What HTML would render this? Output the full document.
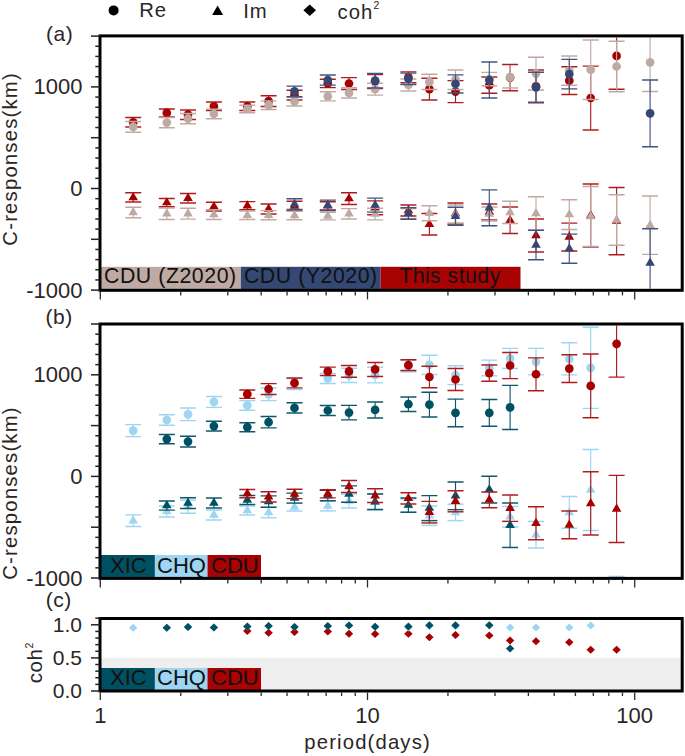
<!DOCTYPE html>
<html><head><meta charset="utf-8"><style>
html,body{margin:0;padding:0;background:#fff;}
svg{display:block;}
</style></head><body>
<svg width="685" height="756" viewBox="0 0 685 756" font-family="Liberation Sans, sans-serif" style="font-family:'Liberation Sans',sans-serif">
<rect x="100.0" y="657.90" width="582.2" height="33.10" fill="#eeeeee"/>
<rect x="100.0" y="266.8" width="140.8" height="23.5" fill="#bfaaa3"/>
<rect x="240.8" y="266.8" width="139.8" height="23.5" fill="#344873"/>
<rect x="380.6" y="266.8" width="139.89999999999998" height="23.5" fill="#a80202"/>
<rect x="100.0" y="555.0" width="54.900000000000006" height="23.399999999999977" fill="#005064"/>
<rect x="154.9" y="555.0" width="52.599999999999994" height="23.399999999999977" fill="#9dd5f2"/>
<rect x="207.5" y="555.0" width="53.5" height="23.399999999999977" fill="#a80202"/>
<rect x="100.0" y="668.0" width="54.900000000000006" height="23.0" fill="#005064"/>
<rect x="154.9" y="668.0" width="52.599999999999994" height="23.0" fill="#9dd5f2"/>
<rect x="207.5" y="668.0" width="53.5" height="23.0" fill="#a80202"/>
<defs><clipPath id="ca"><rect x="101.5" y="37.4" width="578.7" height="251.4"/></clipPath><clipPath id="cb"><rect x="101.5" y="325.5" width="578.7" height="251.4"/></clipPath><clipPath id="cc"><rect x="101.5" y="620" width="578.7" height="69.5"/></clipPath></defs><g clip-path="url(#ca)"><line x1="133.20" y1="117.55" x2="133.20" y2="127.05" stroke="#ac1c1f" stroke-width="1.15"/><line x1="125.20" y1="117.55" x2="141.20" y2="117.55" stroke="#ac1c1f" stroke-width="1.45"/><line x1="125.20" y1="127.05" x2="141.20" y2="127.05" stroke="#ac1c1f" stroke-width="1.45"/><line x1="166.80" y1="108.90" x2="166.80" y2="116.90" stroke="#ac1c1f" stroke-width="1.15"/><line x1="158.80" y1="108.90" x2="174.80" y2="108.90" stroke="#ac1c1f" stroke-width="1.45"/><line x1="158.80" y1="116.90" x2="174.80" y2="116.90" stroke="#ac1c1f" stroke-width="1.45"/><line x1="188.00" y1="109.95" x2="188.00" y2="119.45" stroke="#ac1c1f" stroke-width="1.15"/><line x1="180.00" y1="109.95" x2="196.00" y2="109.95" stroke="#ac1c1f" stroke-width="1.45"/><line x1="180.00" y1="119.45" x2="196.00" y2="119.45" stroke="#ac1c1f" stroke-width="1.45"/><line x1="213.90" y1="102.05" x2="213.90" y2="110.55" stroke="#ac1c1f" stroke-width="1.15"/><line x1="205.90" y1="102.05" x2="221.90" y2="102.05" stroke="#ac1c1f" stroke-width="1.45"/><line x1="205.90" y1="110.55" x2="221.90" y2="110.55" stroke="#ac1c1f" stroke-width="1.45"/><line x1="247.30" y1="102.05" x2="247.30" y2="110.45" stroke="#ac1c1f" stroke-width="1.15"/><line x1="239.30" y1="102.05" x2="255.30" y2="102.05" stroke="#ac1c1f" stroke-width="1.45"/><line x1="239.30" y1="110.45" x2="255.30" y2="110.45" stroke="#ac1c1f" stroke-width="1.45"/><line x1="268.60" y1="95.70" x2="268.60" y2="106.50" stroke="#ac1c1f" stroke-width="1.15"/><line x1="260.60" y1="95.70" x2="276.60" y2="95.70" stroke="#ac1c1f" stroke-width="1.45"/><line x1="260.60" y1="106.50" x2="276.60" y2="106.50" stroke="#ac1c1f" stroke-width="1.45"/><line x1="294.50" y1="90.15" x2="294.50" y2="99.95" stroke="#ac1c1f" stroke-width="1.15"/><line x1="286.50" y1="90.15" x2="302.50" y2="90.15" stroke="#ac1c1f" stroke-width="1.45"/><line x1="286.50" y1="99.95" x2="302.50" y2="99.95" stroke="#ac1c1f" stroke-width="1.45"/><line x1="327.80" y1="79.20" x2="327.80" y2="87.60" stroke="#ac1c1f" stroke-width="1.15"/><line x1="319.80" y1="79.20" x2="335.80" y2="79.20" stroke="#ac1c1f" stroke-width="1.45"/><line x1="319.80" y1="87.60" x2="335.80" y2="87.60" stroke="#ac1c1f" stroke-width="1.45"/><line x1="349.00" y1="77.60" x2="349.00" y2="89.40" stroke="#ac1c1f" stroke-width="1.15"/><line x1="341.00" y1="77.60" x2="357.00" y2="77.60" stroke="#ac1c1f" stroke-width="1.45"/><line x1="341.00" y1="89.40" x2="357.00" y2="89.40" stroke="#ac1c1f" stroke-width="1.45"/><line x1="375.10" y1="74.55" x2="375.10" y2="88.55" stroke="#ac1c1f" stroke-width="1.15"/><line x1="367.10" y1="74.55" x2="383.10" y2="74.55" stroke="#ac1c1f" stroke-width="1.45"/><line x1="367.10" y1="88.55" x2="383.10" y2="88.55" stroke="#ac1c1f" stroke-width="1.45"/><line x1="408.40" y1="71.85" x2="408.40" y2="82.65" stroke="#ac1c1f" stroke-width="1.15"/><line x1="400.40" y1="71.85" x2="416.40" y2="71.85" stroke="#ac1c1f" stroke-width="1.45"/><line x1="400.40" y1="82.65" x2="416.40" y2="82.65" stroke="#ac1c1f" stroke-width="1.45"/><line x1="429.40" y1="78.30" x2="429.40" y2="99.90" stroke="#ac1c1f" stroke-width="1.15"/><line x1="421.40" y1="78.30" x2="437.40" y2="78.30" stroke="#ac1c1f" stroke-width="1.45"/><line x1="421.40" y1="99.90" x2="437.40" y2="99.90" stroke="#ac1c1f" stroke-width="1.45"/><line x1="455.50" y1="80.60" x2="455.50" y2="102.60" stroke="#ac1c1f" stroke-width="1.15"/><line x1="447.50" y1="80.60" x2="463.50" y2="80.60" stroke="#ac1c1f" stroke-width="1.45"/><line x1="447.50" y1="102.60" x2="463.50" y2="102.60" stroke="#ac1c1f" stroke-width="1.45"/><line x1="489.30" y1="77.05" x2="489.30" y2="93.25" stroke="#ac1c1f" stroke-width="1.15"/><line x1="481.30" y1="77.05" x2="497.30" y2="77.05" stroke="#ac1c1f" stroke-width="1.45"/><line x1="481.30" y1="93.25" x2="497.30" y2="93.25" stroke="#ac1c1f" stroke-width="1.45"/><line x1="510.10" y1="64.50" x2="510.10" y2="90.70" stroke="#ac1c1f" stroke-width="1.15"/><line x1="502.10" y1="64.50" x2="518.10" y2="64.50" stroke="#ac1c1f" stroke-width="1.45"/><line x1="502.10" y1="90.70" x2="518.10" y2="90.70" stroke="#ac1c1f" stroke-width="1.45"/><line x1="536.00" y1="69.95" x2="536.00" y2="102.75" stroke="#ac1c1f" stroke-width="1.15"/><line x1="528.00" y1="69.95" x2="544.00" y2="69.95" stroke="#ac1c1f" stroke-width="1.45"/><line x1="528.00" y1="102.75" x2="544.00" y2="102.75" stroke="#ac1c1f" stroke-width="1.45"/><line x1="569.30" y1="66.80" x2="569.30" y2="94.50" stroke="#ac1c1f" stroke-width="1.15"/><line x1="561.30" y1="66.80" x2="577.30" y2="66.80" stroke="#ac1c1f" stroke-width="1.45"/><line x1="561.30" y1="94.50" x2="577.30" y2="94.50" stroke="#ac1c1f" stroke-width="1.45"/><line x1="590.70" y1="66.10" x2="590.70" y2="129.90" stroke="#ac1c1f" stroke-width="1.15"/><line x1="582.70" y1="66.10" x2="598.70" y2="66.10" stroke="#ac1c1f" stroke-width="1.45"/><line x1="582.70" y1="129.90" x2="598.70" y2="129.90" stroke="#ac1c1f" stroke-width="1.45"/><line x1="616.60" y1="22.60" x2="616.60" y2="89.20" stroke="#ac1c1f" stroke-width="1.15"/><line x1="608.60" y1="22.60" x2="624.60" y2="22.60" stroke="#ac1c1f" stroke-width="1.45"/><line x1="608.60" y1="89.20" x2="624.60" y2="89.20" stroke="#ac1c1f" stroke-width="1.45"/><circle cx="133.20" cy="122.30" r="4.35" fill="#a80000"/><circle cx="166.80" cy="112.90" r="4.35" fill="#a80000"/><circle cx="188.00" cy="114.70" r="4.35" fill="#a80000"/><circle cx="213.90" cy="106.30" r="4.35" fill="#a80000"/><circle cx="247.30" cy="106.25" r="4.35" fill="#a80000"/><circle cx="268.60" cy="101.10" r="4.35" fill="#a80000"/><circle cx="294.50" cy="95.05" r="4.35" fill="#a80000"/><circle cx="327.80" cy="83.40" r="4.35" fill="#a80000"/><circle cx="349.00" cy="83.50" r="4.35" fill="#a80000"/><circle cx="375.10" cy="81.55" r="4.35" fill="#a80000"/><circle cx="408.40" cy="77.25" r="4.35" fill="#a80000"/><circle cx="429.40" cy="89.10" r="4.35" fill="#a80000"/><circle cx="455.50" cy="91.60" r="4.35" fill="#a80000"/><circle cx="489.30" cy="85.15" r="4.35" fill="#a80000"/><circle cx="510.10" cy="77.60" r="4.35" fill="#a80000"/><circle cx="536.00" cy="86.35" r="4.35" fill="#a80000"/><circle cx="569.30" cy="80.65" r="4.35" fill="#a80000"/><circle cx="590.70" cy="98.00" r="4.35" fill="#a80000"/><circle cx="616.60" cy="55.90" r="4.35" fill="#a80000"/><line x1="133.20" y1="192.80" x2="133.20" y2="202.00" stroke="#ac1c1f" stroke-width="1.15"/><line x1="125.20" y1="192.80" x2="141.20" y2="192.80" stroke="#ac1c1f" stroke-width="1.45"/><line x1="125.20" y1="202.00" x2="141.20" y2="202.00" stroke="#ac1c1f" stroke-width="1.45"/><line x1="166.80" y1="198.55" x2="166.80" y2="206.65" stroke="#ac1c1f" stroke-width="1.15"/><line x1="158.80" y1="198.55" x2="174.80" y2="198.55" stroke="#ac1c1f" stroke-width="1.45"/><line x1="158.80" y1="206.65" x2="174.80" y2="206.65" stroke="#ac1c1f" stroke-width="1.45"/><line x1="188.00" y1="193.45" x2="188.00" y2="202.95" stroke="#ac1c1f" stroke-width="1.15"/><line x1="180.00" y1="193.45" x2="196.00" y2="193.45" stroke="#ac1c1f" stroke-width="1.45"/><line x1="180.00" y1="202.95" x2="196.00" y2="202.95" stroke="#ac1c1f" stroke-width="1.45"/><line x1="213.90" y1="202.15" x2="213.90" y2="211.05" stroke="#ac1c1f" stroke-width="1.15"/><line x1="205.90" y1="202.15" x2="221.90" y2="202.15" stroke="#ac1c1f" stroke-width="1.45"/><line x1="205.90" y1="211.05" x2="221.90" y2="211.05" stroke="#ac1c1f" stroke-width="1.45"/><line x1="247.30" y1="201.60" x2="247.30" y2="209.80" stroke="#ac1c1f" stroke-width="1.15"/><line x1="239.30" y1="201.60" x2="255.30" y2="201.60" stroke="#ac1c1f" stroke-width="1.45"/><line x1="239.30" y1="209.80" x2="255.30" y2="209.80" stroke="#ac1c1f" stroke-width="1.45"/><line x1="268.60" y1="203.90" x2="268.60" y2="214.00" stroke="#ac1c1f" stroke-width="1.15"/><line x1="260.60" y1="203.90" x2="276.60" y2="203.90" stroke="#ac1c1f" stroke-width="1.45"/><line x1="260.60" y1="214.00" x2="276.60" y2="214.00" stroke="#ac1c1f" stroke-width="1.45"/><line x1="294.50" y1="201.30" x2="294.50" y2="210.70" stroke="#ac1c1f" stroke-width="1.15"/><line x1="286.50" y1="201.30" x2="302.50" y2="201.30" stroke="#ac1c1f" stroke-width="1.45"/><line x1="286.50" y1="210.70" x2="302.50" y2="210.70" stroke="#ac1c1f" stroke-width="1.45"/><line x1="327.80" y1="201.75" x2="327.80" y2="209.95" stroke="#ac1c1f" stroke-width="1.15"/><line x1="319.80" y1="201.75" x2="335.80" y2="201.75" stroke="#ac1c1f" stroke-width="1.45"/><line x1="319.80" y1="209.95" x2="335.80" y2="209.95" stroke="#ac1c1f" stroke-width="1.45"/><line x1="349.00" y1="192.65" x2="349.00" y2="204.55" stroke="#ac1c1f" stroke-width="1.15"/><line x1="341.00" y1="192.65" x2="357.00" y2="192.65" stroke="#ac1c1f" stroke-width="1.45"/><line x1="341.00" y1="204.55" x2="357.00" y2="204.55" stroke="#ac1c1f" stroke-width="1.45"/><line x1="375.10" y1="200.85" x2="375.10" y2="214.65" stroke="#ac1c1f" stroke-width="1.15"/><line x1="367.10" y1="200.85" x2="383.10" y2="200.85" stroke="#ac1c1f" stroke-width="1.45"/><line x1="367.10" y1="214.65" x2="383.10" y2="214.65" stroke="#ac1c1f" stroke-width="1.45"/><line x1="408.40" y1="204.90" x2="408.40" y2="216.00" stroke="#ac1c1f" stroke-width="1.15"/><line x1="400.40" y1="204.90" x2="416.40" y2="204.90" stroke="#ac1c1f" stroke-width="1.45"/><line x1="400.40" y1="216.00" x2="416.40" y2="216.00" stroke="#ac1c1f" stroke-width="1.45"/><line x1="429.40" y1="213.45" x2="429.40" y2="235.05" stroke="#ac1c1f" stroke-width="1.15"/><line x1="421.40" y1="213.45" x2="437.40" y2="213.45" stroke="#ac1c1f" stroke-width="1.45"/><line x1="421.40" y1="235.05" x2="437.40" y2="235.05" stroke="#ac1c1f" stroke-width="1.45"/><line x1="455.50" y1="202.90" x2="455.50" y2="223.90" stroke="#ac1c1f" stroke-width="1.15"/><line x1="447.50" y1="202.90" x2="463.50" y2="202.90" stroke="#ac1c1f" stroke-width="1.45"/><line x1="447.50" y1="223.90" x2="463.50" y2="223.90" stroke="#ac1c1f" stroke-width="1.45"/><line x1="489.30" y1="204.05" x2="489.30" y2="219.85" stroke="#ac1c1f" stroke-width="1.15"/><line x1="481.30" y1="204.05" x2="497.30" y2="204.05" stroke="#ac1c1f" stroke-width="1.45"/><line x1="481.30" y1="219.85" x2="497.30" y2="219.85" stroke="#ac1c1f" stroke-width="1.45"/><line x1="510.10" y1="207.05" x2="510.10" y2="233.45" stroke="#ac1c1f" stroke-width="1.15"/><line x1="502.10" y1="207.05" x2="518.10" y2="207.05" stroke="#ac1c1f" stroke-width="1.45"/><line x1="502.10" y1="233.45" x2="518.10" y2="233.45" stroke="#ac1c1f" stroke-width="1.45"/><line x1="536.00" y1="218.90" x2="536.00" y2="251.90" stroke="#ac1c1f" stroke-width="1.15"/><line x1="528.00" y1="218.90" x2="544.00" y2="218.90" stroke="#ac1c1f" stroke-width="1.45"/><line x1="528.00" y1="251.90" x2="544.00" y2="251.90" stroke="#ac1c1f" stroke-width="1.45"/><line x1="569.30" y1="223.10" x2="569.30" y2="250.90" stroke="#ac1c1f" stroke-width="1.15"/><line x1="561.30" y1="223.10" x2="577.30" y2="223.10" stroke="#ac1c1f" stroke-width="1.45"/><line x1="561.30" y1="250.90" x2="577.30" y2="250.90" stroke="#ac1c1f" stroke-width="1.45"/><line x1="590.70" y1="183.90" x2="590.70" y2="247.10" stroke="#ac1c1f" stroke-width="1.15"/><line x1="582.70" y1="183.90" x2="598.70" y2="183.90" stroke="#ac1c1f" stroke-width="1.45"/><line x1="582.70" y1="247.10" x2="598.70" y2="247.10" stroke="#ac1c1f" stroke-width="1.45"/><line x1="616.60" y1="187.45" x2="616.60" y2="254.65" stroke="#ac1c1f" stroke-width="1.15"/><line x1="608.60" y1="187.45" x2="624.60" y2="187.45" stroke="#ac1c1f" stroke-width="1.45"/><line x1="608.60" y1="254.65" x2="624.60" y2="254.65" stroke="#ac1c1f" stroke-width="1.45"/><polygon points="128.40,200.13 138.00,200.13 133.20,191.93" fill="#a80000"/><polygon points="162.00,205.33 171.60,205.33 166.80,197.13" fill="#a80000"/><polygon points="183.20,200.93 192.80,200.93 188.00,192.73" fill="#a80000"/><polygon points="209.10,209.33 218.70,209.33 213.90,201.13" fill="#a80000"/><polygon points="242.50,208.43 252.10,208.43 247.30,200.23" fill="#a80000"/><polygon points="263.80,211.68 273.40,211.68 268.60,203.48" fill="#a80000"/><polygon points="289.70,208.73 299.30,208.73 294.50,200.53" fill="#a80000"/><polygon points="323.00,208.58 332.60,208.58 327.80,200.38" fill="#a80000"/><polygon points="344.20,201.33 353.80,201.33 349.00,193.13" fill="#a80000"/><polygon points="370.30,210.48 379.90,210.48 375.10,202.28" fill="#a80000"/><polygon points="403.60,213.18 413.20,213.18 408.40,204.98" fill="#a80000"/><polygon points="424.60,226.98 434.20,226.98 429.40,218.78" fill="#a80000"/><polygon points="450.70,216.13 460.30,216.13 455.50,207.93" fill="#a80000"/><polygon points="484.50,214.68 494.10,214.68 489.30,206.48" fill="#a80000"/><polygon points="505.30,222.98 514.90,222.98 510.10,214.78" fill="#a80000"/><polygon points="531.20,238.13 540.80,238.13 536.00,229.93" fill="#a80000"/><polygon points="564.50,239.73 574.10,239.73 569.30,231.53" fill="#a80000"/><polygon points="585.90,218.23 595.50,218.23 590.70,210.03" fill="#a80000"/><polygon points="611.80,223.78 621.40,223.78 616.60,215.58" fill="#a80000"/><line x1="133.20" y1="121.55" x2="133.20" y2="132.25" stroke="#bfaaa3" stroke-width="1.15"/><line x1="125.20" y1="121.55" x2="141.20" y2="121.55" stroke="#bfaaa3" stroke-width="1.45"/><line x1="125.20" y1="132.25" x2="141.20" y2="132.25" stroke="#bfaaa3" stroke-width="1.45"/><line x1="166.80" y1="117.40" x2="166.80" y2="127.80" stroke="#bfaaa3" stroke-width="1.15"/><line x1="158.80" y1="117.40" x2="174.80" y2="117.40" stroke="#bfaaa3" stroke-width="1.45"/><line x1="158.80" y1="127.80" x2="174.80" y2="127.80" stroke="#bfaaa3" stroke-width="1.45"/><line x1="188.00" y1="113.55" x2="188.00" y2="123.65" stroke="#bfaaa3" stroke-width="1.15"/><line x1="180.00" y1="113.55" x2="196.00" y2="113.55" stroke="#bfaaa3" stroke-width="1.45"/><line x1="180.00" y1="123.65" x2="196.00" y2="123.65" stroke="#bfaaa3" stroke-width="1.45"/><line x1="213.90" y1="109.30" x2="213.90" y2="118.70" stroke="#bfaaa3" stroke-width="1.15"/><line x1="205.90" y1="109.30" x2="221.90" y2="109.30" stroke="#bfaaa3" stroke-width="1.45"/><line x1="205.90" y1="118.70" x2="221.90" y2="118.70" stroke="#bfaaa3" stroke-width="1.45"/><line x1="247.30" y1="105.20" x2="247.30" y2="112.80" stroke="#bfaaa3" stroke-width="1.15"/><line x1="239.30" y1="105.20" x2="255.30" y2="105.20" stroke="#bfaaa3" stroke-width="1.45"/><line x1="239.30" y1="112.80" x2="255.30" y2="112.80" stroke="#bfaaa3" stroke-width="1.45"/><line x1="268.60" y1="100.85" x2="268.60" y2="109.55" stroke="#bfaaa3" stroke-width="1.15"/><line x1="260.60" y1="100.85" x2="276.60" y2="100.85" stroke="#bfaaa3" stroke-width="1.45"/><line x1="260.60" y1="109.55" x2="276.60" y2="109.55" stroke="#bfaaa3" stroke-width="1.45"/><line x1="294.50" y1="97.30" x2="294.50" y2="105.90" stroke="#bfaaa3" stroke-width="1.15"/><line x1="286.50" y1="97.30" x2="302.50" y2="97.30" stroke="#bfaaa3" stroke-width="1.45"/><line x1="286.50" y1="105.90" x2="302.50" y2="105.90" stroke="#bfaaa3" stroke-width="1.45"/><line x1="327.80" y1="91.75" x2="327.80" y2="100.85" stroke="#bfaaa3" stroke-width="1.15"/><line x1="319.80" y1="91.75" x2="335.80" y2="91.75" stroke="#bfaaa3" stroke-width="1.45"/><line x1="319.80" y1="100.85" x2="335.80" y2="100.85" stroke="#bfaaa3" stroke-width="1.45"/><line x1="349.00" y1="87.75" x2="349.00" y2="98.05" stroke="#bfaaa3" stroke-width="1.15"/><line x1="341.00" y1="87.75" x2="357.00" y2="87.75" stroke="#bfaaa3" stroke-width="1.45"/><line x1="341.00" y1="98.05" x2="357.00" y2="98.05" stroke="#bfaaa3" stroke-width="1.45"/><line x1="375.10" y1="83.30" x2="375.10" y2="95.10" stroke="#bfaaa3" stroke-width="1.15"/><line x1="367.10" y1="83.30" x2="383.10" y2="83.30" stroke="#bfaaa3" stroke-width="1.45"/><line x1="367.10" y1="95.10" x2="383.10" y2="95.10" stroke="#bfaaa3" stroke-width="1.45"/><line x1="408.40" y1="79.00" x2="408.40" y2="91.00" stroke="#bfaaa3" stroke-width="1.15"/><line x1="400.40" y1="79.00" x2="416.40" y2="79.00" stroke="#bfaaa3" stroke-width="1.45"/><line x1="400.40" y1="91.00" x2="416.40" y2="91.00" stroke="#bfaaa3" stroke-width="1.45"/><line x1="429.40" y1="74.30" x2="429.40" y2="89.50" stroke="#bfaaa3" stroke-width="1.15"/><line x1="421.40" y1="74.30" x2="437.40" y2="74.30" stroke="#bfaaa3" stroke-width="1.45"/><line x1="421.40" y1="89.50" x2="437.40" y2="89.50" stroke="#bfaaa3" stroke-width="1.45"/><line x1="455.50" y1="69.95" x2="455.50" y2="89.45" stroke="#bfaaa3" stroke-width="1.15"/><line x1="447.50" y1="69.95" x2="463.50" y2="69.95" stroke="#bfaaa3" stroke-width="1.45"/><line x1="447.50" y1="89.45" x2="463.50" y2="89.45" stroke="#bfaaa3" stroke-width="1.45"/><line x1="489.30" y1="72.35" x2="489.30" y2="85.65" stroke="#bfaaa3" stroke-width="1.15"/><line x1="481.30" y1="72.35" x2="497.30" y2="72.35" stroke="#bfaaa3" stroke-width="1.45"/><line x1="481.30" y1="85.65" x2="497.30" y2="85.65" stroke="#bfaaa3" stroke-width="1.45"/><line x1="510.10" y1="65.20" x2="510.10" y2="88.00" stroke="#bfaaa3" stroke-width="1.15"/><line x1="502.10" y1="88.00" x2="518.10" y2="88.00" stroke="#bfaaa3" stroke-width="1.45"/><line x1="536.00" y1="57.15" x2="536.00" y2="90.05" stroke="#bfaaa3" stroke-width="1.15"/><line x1="528.00" y1="57.15" x2="544.00" y2="57.15" stroke="#bfaaa3" stroke-width="1.45"/><line x1="528.00" y1="90.05" x2="544.00" y2="90.05" stroke="#bfaaa3" stroke-width="1.45"/><line x1="569.30" y1="55.90" x2="569.30" y2="85.30" stroke="#bfaaa3" stroke-width="1.15"/><line x1="561.30" y1="55.90" x2="577.30" y2="55.90" stroke="#bfaaa3" stroke-width="1.45"/><line x1="561.30" y1="85.30" x2="577.30" y2="85.30" stroke="#bfaaa3" stroke-width="1.45"/><line x1="590.70" y1="39.90" x2="590.70" y2="99.50" stroke="#bfaaa3" stroke-width="1.15"/><line x1="582.70" y1="39.90" x2="598.70" y2="39.90" stroke="#bfaaa3" stroke-width="1.45"/><line x1="582.70" y1="99.50" x2="598.70" y2="99.50" stroke="#bfaaa3" stroke-width="1.45"/><line x1="616.60" y1="41.25" x2="616.60" y2="91.75" stroke="#bfaaa3" stroke-width="1.15"/><line x1="608.60" y1="41.25" x2="624.60" y2="41.25" stroke="#bfaaa3" stroke-width="1.45"/><line x1="608.60" y1="91.75" x2="624.60" y2="91.75" stroke="#bfaaa3" stroke-width="1.45"/><line x1="650.10" y1="33.20" x2="650.10" y2="91.40" stroke="#bfaaa3" stroke-width="1.15"/><line x1="642.10" y1="33.20" x2="658.10" y2="33.20" stroke="#bfaaa3" stroke-width="1.45"/><line x1="642.10" y1="91.40" x2="658.10" y2="91.40" stroke="#bfaaa3" stroke-width="1.45"/><circle cx="133.20" cy="126.90" r="4.35" fill="#bfaaa3"/><circle cx="166.80" cy="122.60" r="4.35" fill="#bfaaa3"/><circle cx="188.00" cy="118.60" r="4.35" fill="#bfaaa3"/><circle cx="213.90" cy="114.00" r="4.35" fill="#bfaaa3"/><circle cx="247.30" cy="109.00" r="4.35" fill="#bfaaa3"/><circle cx="268.60" cy="105.20" r="4.35" fill="#bfaaa3"/><circle cx="294.50" cy="101.60" r="4.35" fill="#bfaaa3"/><circle cx="327.80" cy="96.30" r="4.35" fill="#bfaaa3"/><circle cx="349.00" cy="92.90" r="4.35" fill="#bfaaa3"/><circle cx="375.10" cy="89.20" r="4.35" fill="#bfaaa3"/><circle cx="408.40" cy="85.00" r="4.35" fill="#bfaaa3"/><circle cx="429.40" cy="81.90" r="4.35" fill="#bfaaa3"/><circle cx="455.50" cy="79.70" r="4.35" fill="#bfaaa3"/><circle cx="489.30" cy="79.00" r="4.35" fill="#bfaaa3"/><circle cx="510.10" cy="77.20" r="4.35" fill="#bfaaa3"/><circle cx="536.00" cy="73.60" r="4.35" fill="#bfaaa3"/><circle cx="569.30" cy="70.60" r="4.35" fill="#bfaaa3"/><circle cx="590.70" cy="69.70" r="4.35" fill="#bfaaa3"/><circle cx="616.60" cy="66.50" r="4.35" fill="#bfaaa3"/><circle cx="650.10" cy="62.30" r="4.35" fill="#bfaaa3"/><line x1="133.20" y1="207.25" x2="133.20" y2="217.75" stroke="#bfaaa3" stroke-width="1.15"/><line x1="125.20" y1="207.25" x2="141.20" y2="207.25" stroke="#bfaaa3" stroke-width="1.45"/><line x1="125.20" y1="217.75" x2="141.20" y2="217.75" stroke="#bfaaa3" stroke-width="1.45"/><line x1="166.80" y1="208.00" x2="166.80" y2="219.40" stroke="#bfaaa3" stroke-width="1.15"/><line x1="158.80" y1="208.00" x2="174.80" y2="208.00" stroke="#bfaaa3" stroke-width="1.45"/><line x1="158.80" y1="219.40" x2="174.80" y2="219.40" stroke="#bfaaa3" stroke-width="1.45"/><line x1="188.00" y1="208.30" x2="188.00" y2="219.10" stroke="#bfaaa3" stroke-width="1.15"/><line x1="180.00" y1="208.30" x2="196.00" y2="208.30" stroke="#bfaaa3" stroke-width="1.45"/><line x1="180.00" y1="219.10" x2="196.00" y2="219.10" stroke="#bfaaa3" stroke-width="1.45"/><line x1="213.90" y1="209.80" x2="213.90" y2="219.40" stroke="#bfaaa3" stroke-width="1.15"/><line x1="205.90" y1="209.80" x2="221.90" y2="209.80" stroke="#bfaaa3" stroke-width="1.45"/><line x1="205.90" y1="219.40" x2="221.90" y2="219.40" stroke="#bfaaa3" stroke-width="1.45"/><line x1="247.30" y1="211.00" x2="247.30" y2="219.40" stroke="#bfaaa3" stroke-width="1.15"/><line x1="239.30" y1="211.00" x2="255.30" y2="211.00" stroke="#bfaaa3" stroke-width="1.45"/><line x1="239.30" y1="219.40" x2="255.30" y2="219.40" stroke="#bfaaa3" stroke-width="1.45"/><line x1="268.60" y1="210.60" x2="268.60" y2="219.80" stroke="#bfaaa3" stroke-width="1.15"/><line x1="260.60" y1="210.60" x2="276.60" y2="210.60" stroke="#bfaaa3" stroke-width="1.45"/><line x1="260.60" y1="219.80" x2="276.60" y2="219.80" stroke="#bfaaa3" stroke-width="1.45"/><line x1="294.50" y1="211.25" x2="294.50" y2="219.75" stroke="#bfaaa3" stroke-width="1.15"/><line x1="286.50" y1="211.25" x2="302.50" y2="211.25" stroke="#bfaaa3" stroke-width="1.45"/><line x1="286.50" y1="219.75" x2="302.50" y2="219.75" stroke="#bfaaa3" stroke-width="1.45"/><line x1="327.80" y1="212.15" x2="327.80" y2="219.85" stroke="#bfaaa3" stroke-width="1.15"/><line x1="319.80" y1="212.15" x2="335.80" y2="212.15" stroke="#bfaaa3" stroke-width="1.45"/><line x1="319.80" y1="219.85" x2="335.80" y2="219.85" stroke="#bfaaa3" stroke-width="1.45"/><line x1="349.00" y1="208.60" x2="349.00" y2="219.00" stroke="#bfaaa3" stroke-width="1.15"/><line x1="341.00" y1="208.60" x2="357.00" y2="208.60" stroke="#bfaaa3" stroke-width="1.45"/><line x1="341.00" y1="219.00" x2="357.00" y2="219.00" stroke="#bfaaa3" stroke-width="1.45"/><line x1="375.10" y1="208.15" x2="375.10" y2="219.85" stroke="#bfaaa3" stroke-width="1.15"/><line x1="367.10" y1="208.15" x2="383.10" y2="208.15" stroke="#bfaaa3" stroke-width="1.45"/><line x1="367.10" y1="219.85" x2="383.10" y2="219.85" stroke="#bfaaa3" stroke-width="1.45"/><line x1="408.40" y1="208.50" x2="408.40" y2="218.50" stroke="#bfaaa3" stroke-width="1.15"/><line x1="400.40" y1="208.50" x2="416.40" y2="208.50" stroke="#bfaaa3" stroke-width="1.45"/><line x1="400.40" y1="218.50" x2="416.40" y2="218.50" stroke="#bfaaa3" stroke-width="1.45"/><line x1="429.40" y1="205.75" x2="429.40" y2="220.65" stroke="#bfaaa3" stroke-width="1.15"/><line x1="421.40" y1="205.75" x2="437.40" y2="205.75" stroke="#bfaaa3" stroke-width="1.45"/><line x1="421.40" y1="220.65" x2="437.40" y2="220.65" stroke="#bfaaa3" stroke-width="1.45"/><line x1="455.50" y1="205.00" x2="455.50" y2="223.00" stroke="#bfaaa3" stroke-width="1.15"/><line x1="447.50" y1="205.00" x2="463.50" y2="205.00" stroke="#bfaaa3" stroke-width="1.45"/><line x1="447.50" y1="223.00" x2="463.50" y2="223.00" stroke="#bfaaa3" stroke-width="1.45"/><line x1="489.30" y1="207.00" x2="489.30" y2="221.00" stroke="#bfaaa3" stroke-width="1.15"/><line x1="481.30" y1="207.00" x2="497.30" y2="207.00" stroke="#bfaaa3" stroke-width="1.45"/><line x1="481.30" y1="221.00" x2="497.30" y2="221.00" stroke="#bfaaa3" stroke-width="1.45"/><line x1="510.10" y1="201.25" x2="510.10" y2="223.55" stroke="#bfaaa3" stroke-width="1.15"/><line x1="502.10" y1="201.25" x2="518.10" y2="201.25" stroke="#bfaaa3" stroke-width="1.45"/><line x1="502.10" y1="223.55" x2="518.10" y2="223.55" stroke="#bfaaa3" stroke-width="1.45"/><line x1="536.00" y1="196.70" x2="536.00" y2="230.30" stroke="#bfaaa3" stroke-width="1.15"/><line x1="528.00" y1="196.70" x2="544.00" y2="196.70" stroke="#bfaaa3" stroke-width="1.45"/><line x1="528.00" y1="230.30" x2="544.00" y2="230.30" stroke="#bfaaa3" stroke-width="1.45"/><line x1="569.30" y1="199.70" x2="569.30" y2="229.50" stroke="#bfaaa3" stroke-width="1.15"/><line x1="561.30" y1="199.70" x2="577.30" y2="199.70" stroke="#bfaaa3" stroke-width="1.45"/><line x1="561.30" y1="229.50" x2="577.30" y2="229.50" stroke="#bfaaa3" stroke-width="1.45"/><line x1="590.70" y1="186.50" x2="590.70" y2="246.50" stroke="#bfaaa3" stroke-width="1.15"/><line x1="582.70" y1="186.50" x2="598.70" y2="186.50" stroke="#bfaaa3" stroke-width="1.45"/><line x1="582.70" y1="246.50" x2="598.70" y2="246.50" stroke="#bfaaa3" stroke-width="1.45"/><line x1="616.60" y1="194.75" x2="616.60" y2="245.25" stroke="#bfaaa3" stroke-width="1.15"/><line x1="608.60" y1="194.75" x2="624.60" y2="194.75" stroke="#bfaaa3" stroke-width="1.45"/><line x1="608.60" y1="245.25" x2="624.60" y2="245.25" stroke="#bfaaa3" stroke-width="1.45"/><line x1="650.10" y1="196.05" x2="650.10" y2="254.35" stroke="#bfaaa3" stroke-width="1.15"/><line x1="642.10" y1="196.05" x2="658.10" y2="196.05" stroke="#bfaaa3" stroke-width="1.45"/><line x1="642.10" y1="254.35" x2="658.10" y2="254.35" stroke="#bfaaa3" stroke-width="1.45"/><polygon points="128.40,215.23 138.00,215.23 133.20,207.03" fill="#bfaaa3"/><polygon points="162.00,216.43 171.60,216.43 166.80,208.23" fill="#bfaaa3"/><polygon points="183.20,216.43 192.80,216.43 188.00,208.23" fill="#bfaaa3"/><polygon points="209.10,217.33 218.70,217.33 213.90,209.13" fill="#bfaaa3"/><polygon points="242.50,217.93 252.10,217.93 247.30,209.73" fill="#bfaaa3"/><polygon points="263.80,217.93 273.40,217.93 268.60,209.73" fill="#bfaaa3"/><polygon points="289.70,218.23 299.30,218.23 294.50,210.03" fill="#bfaaa3"/><polygon points="323.00,218.73 332.60,218.73 327.80,210.53" fill="#bfaaa3"/><polygon points="344.20,216.53 353.80,216.53 349.00,208.33" fill="#bfaaa3"/><polygon points="370.30,216.73 379.90,216.73 375.10,208.53" fill="#bfaaa3"/><polygon points="403.60,216.23 413.20,216.23 408.40,208.03" fill="#bfaaa3"/><polygon points="424.60,215.93 434.20,215.93 429.40,207.73" fill="#bfaaa3"/><polygon points="450.70,216.73 460.30,216.73 455.50,208.53" fill="#bfaaa3"/><polygon points="484.50,216.73 494.10,216.73 489.30,208.53" fill="#bfaaa3"/><polygon points="505.30,215.13 514.90,215.13 510.10,206.93" fill="#bfaaa3"/><polygon points="531.20,216.23 540.80,216.23 536.00,208.03" fill="#bfaaa3"/><polygon points="564.50,217.33 574.10,217.33 569.30,209.13" fill="#bfaaa3"/><polygon points="585.90,219.23 595.50,219.23 590.70,211.03" fill="#bfaaa3"/><polygon points="611.80,222.73 621.40,222.73 616.60,214.53" fill="#bfaaa3"/><polygon points="645.30,227.93 654.90,227.93 650.10,219.73" fill="#bfaaa3"/><line x1="294.50" y1="86.10" x2="294.50" y2="96.70" stroke="#43537f" stroke-width="1.15"/><line x1="286.50" y1="86.10" x2="302.50" y2="86.10" stroke="#43537f" stroke-width="1.45"/><line x1="286.50" y1="96.70" x2="302.50" y2="96.70" stroke="#43537f" stroke-width="1.45"/><line x1="327.80" y1="74.90" x2="327.80" y2="85.10" stroke="#43537f" stroke-width="1.15"/><line x1="319.80" y1="74.90" x2="335.80" y2="74.90" stroke="#43537f" stroke-width="1.45"/><line x1="319.80" y1="85.10" x2="335.80" y2="85.10" stroke="#43537f" stroke-width="1.45"/><line x1="375.10" y1="73.40" x2="375.10" y2="88.00" stroke="#43537f" stroke-width="1.15"/><line x1="367.10" y1="73.40" x2="383.10" y2="73.40" stroke="#43537f" stroke-width="1.45"/><line x1="367.10" y1="88.00" x2="383.10" y2="88.00" stroke="#43537f" stroke-width="1.45"/><line x1="408.40" y1="73.10" x2="408.40" y2="84.50" stroke="#43537f" stroke-width="1.15"/><line x1="400.40" y1="73.10" x2="416.40" y2="73.10" stroke="#43537f" stroke-width="1.45"/><line x1="400.40" y1="84.50" x2="416.40" y2="84.50" stroke="#43537f" stroke-width="1.45"/><line x1="455.50" y1="74.85" x2="455.50" y2="92.95" stroke="#43537f" stroke-width="1.15"/><line x1="447.50" y1="74.85" x2="463.50" y2="74.85" stroke="#43537f" stroke-width="1.45"/><line x1="447.50" y1="92.95" x2="463.50" y2="92.95" stroke="#43537f" stroke-width="1.45"/><line x1="489.30" y1="62.05" x2="489.30" y2="97.95" stroke="#43537f" stroke-width="1.15"/><line x1="481.30" y1="62.05" x2="497.30" y2="62.05" stroke="#43537f" stroke-width="1.45"/><line x1="481.30" y1="97.95" x2="497.30" y2="97.95" stroke="#43537f" stroke-width="1.45"/><line x1="536.00" y1="72.30" x2="536.00" y2="102.30" stroke="#43537f" stroke-width="1.15"/><line x1="528.00" y1="72.30" x2="544.00" y2="72.30" stroke="#43537f" stroke-width="1.45"/><line x1="528.00" y1="102.30" x2="544.00" y2="102.30" stroke="#43537f" stroke-width="1.45"/><line x1="569.30" y1="59.35" x2="569.30" y2="88.85" stroke="#43537f" stroke-width="1.15"/><line x1="561.30" y1="59.35" x2="577.30" y2="59.35" stroke="#43537f" stroke-width="1.45"/><line x1="561.30" y1="88.85" x2="577.30" y2="88.85" stroke="#43537f" stroke-width="1.45"/><line x1="650.10" y1="79.95" x2="650.10" y2="146.65" stroke="#43537f" stroke-width="1.15"/><line x1="642.10" y1="79.95" x2="658.10" y2="79.95" stroke="#43537f" stroke-width="1.45"/><line x1="642.10" y1="146.65" x2="658.10" y2="146.65" stroke="#43537f" stroke-width="1.45"/><circle cx="294.50" cy="91.40" r="4.35" fill="#344873"/><circle cx="327.80" cy="80.00" r="4.35" fill="#344873"/><circle cx="375.10" cy="80.70" r="4.35" fill="#344873"/><circle cx="408.40" cy="78.80" r="4.35" fill="#344873"/><circle cx="455.50" cy="83.90" r="4.35" fill="#344873"/><circle cx="489.30" cy="80.00" r="4.35" fill="#344873"/><circle cx="536.00" cy="87.30" r="4.35" fill="#344873"/><circle cx="569.30" cy="74.10" r="4.35" fill="#344873"/><circle cx="650.10" cy="113.30" r="4.35" fill="#344873"/><line x1="294.50" y1="198.80" x2="294.50" y2="209.40" stroke="#43537f" stroke-width="1.15"/><line x1="286.50" y1="198.80" x2="302.50" y2="198.80" stroke="#43537f" stroke-width="1.45"/><line x1="286.50" y1="209.40" x2="302.50" y2="209.40" stroke="#43537f" stroke-width="1.45"/><line x1="327.80" y1="200.10" x2="327.80" y2="210.50" stroke="#43537f" stroke-width="1.15"/><line x1="319.80" y1="200.10" x2="335.80" y2="200.10" stroke="#43537f" stroke-width="1.45"/><line x1="319.80" y1="210.50" x2="335.80" y2="210.50" stroke="#43537f" stroke-width="1.45"/><line x1="375.10" y1="198.10" x2="375.10" y2="212.10" stroke="#43537f" stroke-width="1.15"/><line x1="367.10" y1="198.10" x2="383.10" y2="198.10" stroke="#43537f" stroke-width="1.45"/><line x1="367.10" y1="212.10" x2="383.10" y2="212.10" stroke="#43537f" stroke-width="1.45"/><line x1="408.40" y1="207.75" x2="408.40" y2="219.25" stroke="#43537f" stroke-width="1.15"/><line x1="400.40" y1="207.75" x2="416.40" y2="207.75" stroke="#43537f" stroke-width="1.45"/><line x1="400.40" y1="219.25" x2="416.40" y2="219.25" stroke="#43537f" stroke-width="1.45"/><line x1="455.50" y1="207.30" x2="455.50" y2="225.30" stroke="#43537f" stroke-width="1.15"/><line x1="447.50" y1="207.30" x2="463.50" y2="207.30" stroke="#43537f" stroke-width="1.45"/><line x1="447.50" y1="225.30" x2="463.50" y2="225.30" stroke="#43537f" stroke-width="1.45"/><line x1="489.30" y1="189.85" x2="489.30" y2="225.75" stroke="#43537f" stroke-width="1.15"/><line x1="481.30" y1="189.85" x2="497.30" y2="189.85" stroke="#43537f" stroke-width="1.45"/><line x1="481.30" y1="225.75" x2="497.30" y2="225.75" stroke="#43537f" stroke-width="1.45"/><line x1="536.00" y1="230.25" x2="536.00" y2="259.75" stroke="#43537f" stroke-width="1.15"/><line x1="528.00" y1="230.25" x2="544.00" y2="230.25" stroke="#43537f" stroke-width="1.45"/><line x1="528.00" y1="259.75" x2="544.00" y2="259.75" stroke="#43537f" stroke-width="1.45"/><line x1="569.30" y1="234.10" x2="569.30" y2="263.30" stroke="#43537f" stroke-width="1.15"/><line x1="561.30" y1="234.10" x2="577.30" y2="234.10" stroke="#43537f" stroke-width="1.45"/><line x1="561.30" y1="263.30" x2="577.30" y2="263.30" stroke="#43537f" stroke-width="1.45"/><line x1="650.10" y1="228.70" x2="650.10" y2="297.30" stroke="#43537f" stroke-width="1.15"/><line x1="642.10" y1="228.70" x2="658.10" y2="228.70" stroke="#43537f" stroke-width="1.45"/><line x1="642.10" y1="297.30" x2="658.10" y2="297.30" stroke="#43537f" stroke-width="1.45"/><polygon points="289.70,206.83 299.30,206.83 294.50,198.63" fill="#344873"/><polygon points="323.00,208.03 332.60,208.03 327.80,199.83" fill="#344873"/><polygon points="370.30,207.83 379.90,207.83 375.10,199.63" fill="#344873"/><polygon points="403.60,216.23 413.20,216.23 408.40,208.03" fill="#344873"/><polygon points="450.70,219.03 460.30,219.03 455.50,210.83" fill="#344873"/><polygon points="484.50,210.53 494.10,210.53 489.30,202.33" fill="#344873"/><polygon points="531.20,247.73 540.80,247.73 536.00,239.53" fill="#344873"/><polygon points="564.50,251.43 574.10,251.43 569.30,243.23" fill="#344873"/><polygon points="645.30,265.73 654.90,265.73 650.10,257.53" fill="#344873"/></g><g clip-path="url(#cb)"><line x1="133.20" y1="424.60" x2="133.20" y2="436.60" stroke="#9dd5f2" stroke-width="1.15"/><line x1="125.20" y1="424.60" x2="141.20" y2="424.60" stroke="#9dd5f2" stroke-width="1.45"/><line x1="125.20" y1="436.60" x2="141.20" y2="436.60" stroke="#9dd5f2" stroke-width="1.45"/><line x1="166.80" y1="414.80" x2="166.80" y2="425.20" stroke="#9dd5f2" stroke-width="1.15"/><line x1="158.80" y1="414.80" x2="174.80" y2="414.80" stroke="#9dd5f2" stroke-width="1.45"/><line x1="158.80" y1="425.20" x2="174.80" y2="425.20" stroke="#9dd5f2" stroke-width="1.45"/><line x1="188.00" y1="408.00" x2="188.00" y2="420.60" stroke="#9dd5f2" stroke-width="1.15"/><line x1="180.00" y1="408.00" x2="196.00" y2="408.00" stroke="#9dd5f2" stroke-width="1.45"/><line x1="180.00" y1="420.60" x2="196.00" y2="420.60" stroke="#9dd5f2" stroke-width="1.45"/><line x1="213.90" y1="396.45" x2="213.90" y2="407.35" stroke="#9dd5f2" stroke-width="1.15"/><line x1="205.90" y1="396.45" x2="221.90" y2="396.45" stroke="#9dd5f2" stroke-width="1.45"/><line x1="205.90" y1="407.35" x2="221.90" y2="407.35" stroke="#9dd5f2" stroke-width="1.45"/><line x1="247.30" y1="400.60" x2="247.30" y2="410.20" stroke="#9dd5f2" stroke-width="1.15"/><line x1="239.30" y1="400.60" x2="255.30" y2="400.60" stroke="#9dd5f2" stroke-width="1.45"/><line x1="239.30" y1="410.20" x2="255.30" y2="410.20" stroke="#9dd5f2" stroke-width="1.45"/><line x1="268.60" y1="388.00" x2="268.60" y2="400.60" stroke="#9dd5f2" stroke-width="1.15"/><line x1="260.60" y1="388.00" x2="276.60" y2="388.00" stroke="#9dd5f2" stroke-width="1.45"/><line x1="260.60" y1="400.60" x2="276.60" y2="400.60" stroke="#9dd5f2" stroke-width="1.45"/><line x1="294.50" y1="378.50" x2="294.50" y2="389.50" stroke="#9dd5f2" stroke-width="1.15"/><line x1="286.50" y1="378.50" x2="302.50" y2="378.50" stroke="#9dd5f2" stroke-width="1.45"/><line x1="286.50" y1="389.50" x2="302.50" y2="389.50" stroke="#9dd5f2" stroke-width="1.45"/><line x1="327.80" y1="373.35" x2="327.80" y2="383.45" stroke="#9dd5f2" stroke-width="1.15"/><line x1="319.80" y1="373.35" x2="335.80" y2="373.35" stroke="#9dd5f2" stroke-width="1.45"/><line x1="319.80" y1="383.45" x2="335.80" y2="383.45" stroke="#9dd5f2" stroke-width="1.45"/><line x1="349.00" y1="368.15" x2="349.00" y2="382.45" stroke="#9dd5f2" stroke-width="1.15"/><line x1="341.00" y1="368.15" x2="357.00" y2="368.15" stroke="#9dd5f2" stroke-width="1.45"/><line x1="341.00" y1="382.45" x2="357.00" y2="382.45" stroke="#9dd5f2" stroke-width="1.45"/><line x1="375.10" y1="367.15" x2="375.10" y2="382.85" stroke="#9dd5f2" stroke-width="1.15"/><line x1="367.10" y1="367.15" x2="383.10" y2="367.15" stroke="#9dd5f2" stroke-width="1.45"/><line x1="367.10" y1="382.85" x2="383.10" y2="382.85" stroke="#9dd5f2" stroke-width="1.45"/><line x1="408.40" y1="360.20" x2="408.40" y2="371.80" stroke="#9dd5f2" stroke-width="1.15"/><line x1="400.40" y1="360.20" x2="416.40" y2="360.20" stroke="#9dd5f2" stroke-width="1.45"/><line x1="400.40" y1="371.80" x2="416.40" y2="371.80" stroke="#9dd5f2" stroke-width="1.45"/><line x1="429.40" y1="355.30" x2="429.40" y2="374.50" stroke="#9dd5f2" stroke-width="1.15"/><line x1="421.40" y1="355.30" x2="437.40" y2="355.30" stroke="#9dd5f2" stroke-width="1.45"/><line x1="421.40" y1="374.50" x2="437.40" y2="374.50" stroke="#9dd5f2" stroke-width="1.45"/><line x1="455.50" y1="365.80" x2="455.50" y2="384.60" stroke="#9dd5f2" stroke-width="1.15"/><line x1="447.50" y1="365.80" x2="463.50" y2="365.80" stroke="#9dd5f2" stroke-width="1.45"/><line x1="447.50" y1="384.60" x2="463.50" y2="384.60" stroke="#9dd5f2" stroke-width="1.45"/><line x1="489.30" y1="360.10" x2="489.30" y2="375.70" stroke="#9dd5f2" stroke-width="1.15"/><line x1="481.30" y1="360.10" x2="497.30" y2="360.10" stroke="#9dd5f2" stroke-width="1.45"/><line x1="481.30" y1="375.70" x2="497.30" y2="375.70" stroke="#9dd5f2" stroke-width="1.45"/><line x1="510.10" y1="348.35" x2="510.10" y2="368.45" stroke="#9dd5f2" stroke-width="1.15"/><line x1="502.10" y1="348.35" x2="518.10" y2="348.35" stroke="#9dd5f2" stroke-width="1.45"/><line x1="502.10" y1="368.45" x2="518.10" y2="368.45" stroke="#9dd5f2" stroke-width="1.45"/><line x1="536.00" y1="348.35" x2="536.00" y2="374.85" stroke="#9dd5f2" stroke-width="1.15"/><line x1="528.00" y1="348.35" x2="544.00" y2="348.35" stroke="#9dd5f2" stroke-width="1.45"/><line x1="528.00" y1="374.85" x2="544.00" y2="374.85" stroke="#9dd5f2" stroke-width="1.45"/><line x1="569.30" y1="342.75" x2="569.30" y2="374.85" stroke="#9dd5f2" stroke-width="1.15"/><line x1="561.30" y1="342.75" x2="577.30" y2="342.75" stroke="#9dd5f2" stroke-width="1.45"/><line x1="561.30" y1="374.85" x2="577.30" y2="374.85" stroke="#9dd5f2" stroke-width="1.45"/><line x1="590.70" y1="327.25" x2="590.70" y2="408.35" stroke="#9dd5f2" stroke-width="1.15"/><line x1="582.70" y1="327.25" x2="598.70" y2="327.25" stroke="#9dd5f2" stroke-width="1.45"/><line x1="582.70" y1="408.35" x2="598.70" y2="408.35" stroke="#9dd5f2" stroke-width="1.45"/><circle cx="133.20" cy="430.60" r="4.35" fill="#9dd5f2"/><circle cx="166.80" cy="420.00" r="4.35" fill="#9dd5f2"/><circle cx="188.00" cy="414.30" r="4.35" fill="#9dd5f2"/><circle cx="213.90" cy="401.90" r="4.35" fill="#9dd5f2"/><circle cx="247.30" cy="405.40" r="4.35" fill="#9dd5f2"/><circle cx="268.60" cy="394.30" r="4.35" fill="#9dd5f2"/><circle cx="294.50" cy="384.00" r="4.35" fill="#9dd5f2"/><circle cx="327.80" cy="378.40" r="4.35" fill="#9dd5f2"/><circle cx="349.00" cy="375.30" r="4.35" fill="#9dd5f2"/><circle cx="375.10" cy="375.00" r="4.35" fill="#9dd5f2"/><circle cx="408.40" cy="366.00" r="4.35" fill="#9dd5f2"/><circle cx="429.40" cy="364.90" r="4.35" fill="#9dd5f2"/><circle cx="455.50" cy="375.20" r="4.35" fill="#9dd5f2"/><circle cx="489.30" cy="367.90" r="4.35" fill="#9dd5f2"/><circle cx="510.10" cy="358.40" r="4.35" fill="#9dd5f2"/><circle cx="536.00" cy="361.60" r="4.35" fill="#9dd5f2"/><circle cx="569.30" cy="358.80" r="4.35" fill="#9dd5f2"/><circle cx="590.70" cy="367.80" r="4.35" fill="#9dd5f2"/><line x1="133.20" y1="514.85" x2="133.20" y2="526.55" stroke="#9dd5f2" stroke-width="1.15"/><line x1="125.20" y1="514.85" x2="141.20" y2="514.85" stroke="#9dd5f2" stroke-width="1.45"/><line x1="125.20" y1="526.55" x2="141.20" y2="526.55" stroke="#9dd5f2" stroke-width="1.45"/><line x1="166.80" y1="506.05" x2="166.80" y2="516.95" stroke="#9dd5f2" stroke-width="1.15"/><line x1="158.80" y1="506.05" x2="174.80" y2="506.05" stroke="#9dd5f2" stroke-width="1.45"/><line x1="158.80" y1="516.95" x2="174.80" y2="516.95" stroke="#9dd5f2" stroke-width="1.45"/><line x1="188.00" y1="499.95" x2="188.00" y2="513.25" stroke="#9dd5f2" stroke-width="1.15"/><line x1="180.00" y1="499.95" x2="196.00" y2="499.95" stroke="#9dd5f2" stroke-width="1.45"/><line x1="180.00" y1="513.25" x2="196.00" y2="513.25" stroke="#9dd5f2" stroke-width="1.45"/><line x1="213.90" y1="510.00" x2="213.90" y2="520.00" stroke="#9dd5f2" stroke-width="1.15"/><line x1="205.90" y1="510.00" x2="221.90" y2="510.00" stroke="#9dd5f2" stroke-width="1.45"/><line x1="205.90" y1="520.00" x2="221.90" y2="520.00" stroke="#9dd5f2" stroke-width="1.45"/><line x1="247.30" y1="506.00" x2="247.30" y2="515.00" stroke="#9dd5f2" stroke-width="1.15"/><line x1="239.30" y1="506.00" x2="255.30" y2="506.00" stroke="#9dd5f2" stroke-width="1.45"/><line x1="239.30" y1="515.00" x2="255.30" y2="515.00" stroke="#9dd5f2" stroke-width="1.45"/><line x1="268.60" y1="507.30" x2="268.60" y2="517.70" stroke="#9dd5f2" stroke-width="1.15"/><line x1="260.60" y1="507.30" x2="276.60" y2="507.30" stroke="#9dd5f2" stroke-width="1.45"/><line x1="260.60" y1="517.70" x2="276.60" y2="517.70" stroke="#9dd5f2" stroke-width="1.45"/><line x1="294.50" y1="503.00" x2="294.50" y2="511.00" stroke="#9dd5f2" stroke-width="1.15"/><line x1="286.50" y1="503.00" x2="302.50" y2="503.00" stroke="#9dd5f2" stroke-width="1.45"/><line x1="286.50" y1="511.00" x2="302.50" y2="511.00" stroke="#9dd5f2" stroke-width="1.45"/><line x1="327.80" y1="501.10" x2="327.80" y2="510.90" stroke="#9dd5f2" stroke-width="1.15"/><line x1="319.80" y1="501.10" x2="335.80" y2="501.10" stroke="#9dd5f2" stroke-width="1.45"/><line x1="319.80" y1="510.90" x2="335.80" y2="510.90" stroke="#9dd5f2" stroke-width="1.45"/><line x1="349.00" y1="494.00" x2="349.00" y2="508.00" stroke="#9dd5f2" stroke-width="1.15"/><line x1="341.00" y1="494.00" x2="357.00" y2="494.00" stroke="#9dd5f2" stroke-width="1.45"/><line x1="341.00" y1="508.00" x2="357.00" y2="508.00" stroke="#9dd5f2" stroke-width="1.45"/><line x1="375.10" y1="494.30" x2="375.10" y2="510.10" stroke="#9dd5f2" stroke-width="1.15"/><line x1="367.10" y1="494.30" x2="383.10" y2="494.30" stroke="#9dd5f2" stroke-width="1.45"/><line x1="367.10" y1="510.10" x2="383.10" y2="510.10" stroke="#9dd5f2" stroke-width="1.45"/><line x1="408.40" y1="499.00" x2="408.40" y2="512.00" stroke="#9dd5f2" stroke-width="1.15"/><line x1="400.40" y1="499.00" x2="416.40" y2="499.00" stroke="#9dd5f2" stroke-width="1.45"/><line x1="400.40" y1="512.00" x2="416.40" y2="512.00" stroke="#9dd5f2" stroke-width="1.45"/><line x1="429.40" y1="506.00" x2="429.40" y2="525.40" stroke="#9dd5f2" stroke-width="1.15"/><line x1="421.40" y1="506.00" x2="437.40" y2="506.00" stroke="#9dd5f2" stroke-width="1.45"/><line x1="421.40" y1="525.40" x2="437.40" y2="525.40" stroke="#9dd5f2" stroke-width="1.45"/><line x1="455.50" y1="504.20" x2="455.50" y2="520.60" stroke="#9dd5f2" stroke-width="1.15"/><line x1="447.50" y1="504.20" x2="463.50" y2="504.20" stroke="#9dd5f2" stroke-width="1.45"/><line x1="447.50" y1="520.60" x2="463.50" y2="520.60" stroke="#9dd5f2" stroke-width="1.45"/><line x1="510.10" y1="506.55" x2="510.10" y2="527.05" stroke="#9dd5f2" stroke-width="1.15"/><line x1="502.10" y1="506.55" x2="518.10" y2="506.55" stroke="#9dd5f2" stroke-width="1.45"/><line x1="502.10" y1="527.05" x2="518.10" y2="527.05" stroke="#9dd5f2" stroke-width="1.45"/><line x1="536.00" y1="521.55" x2="536.00" y2="548.05" stroke="#9dd5f2" stroke-width="1.15"/><line x1="528.00" y1="521.55" x2="544.00" y2="521.55" stroke="#9dd5f2" stroke-width="1.45"/><line x1="528.00" y1="548.05" x2="544.00" y2="548.05" stroke="#9dd5f2" stroke-width="1.45"/><line x1="569.30" y1="496.55" x2="569.30" y2="528.25" stroke="#9dd5f2" stroke-width="1.15"/><line x1="561.30" y1="496.55" x2="577.30" y2="496.55" stroke="#9dd5f2" stroke-width="1.45"/><line x1="561.30" y1="528.25" x2="577.30" y2="528.25" stroke="#9dd5f2" stroke-width="1.45"/><line x1="590.70" y1="449.45" x2="590.70" y2="530.55" stroke="#9dd5f2" stroke-width="1.15"/><line x1="582.70" y1="449.45" x2="598.70" y2="449.45" stroke="#9dd5f2" stroke-width="1.45"/><line x1="582.70" y1="530.55" x2="598.70" y2="530.55" stroke="#9dd5f2" stroke-width="1.45"/><line x1="616.60" y1="576.40" x2="616.60" y2="606.40" stroke="#9dd5f2" stroke-width="1.15"/><line x1="608.60" y1="576.40" x2="624.60" y2="576.40" stroke="#9dd5f2" stroke-width="1.45"/><line x1="608.60" y1="606.40" x2="624.60" y2="606.40" stroke="#9dd5f2" stroke-width="1.45"/><polygon points="128.40,523.43 138.00,523.43 133.20,515.23" fill="#9dd5f2"/><polygon points="162.00,514.23 171.60,514.23 166.80,506.03" fill="#9dd5f2"/><polygon points="183.20,509.33 192.80,509.33 188.00,501.13" fill="#9dd5f2"/><polygon points="209.10,517.73 218.70,517.73 213.90,509.53" fill="#9dd5f2"/><polygon points="242.50,513.23 252.10,513.23 247.30,505.03" fill="#9dd5f2"/><polygon points="263.80,515.23 273.40,515.23 268.60,507.03" fill="#9dd5f2"/><polygon points="289.70,509.73 299.30,509.73 294.50,501.53" fill="#9dd5f2"/><polygon points="323.00,508.73 332.60,508.73 327.80,500.53" fill="#9dd5f2"/><polygon points="344.20,503.73 353.80,503.73 349.00,495.53" fill="#9dd5f2"/><polygon points="370.30,504.93 379.90,504.93 375.10,496.73" fill="#9dd5f2"/><polygon points="403.60,508.23 413.20,508.23 408.40,500.03" fill="#9dd5f2"/><polygon points="424.60,518.43 434.20,518.43 429.40,510.23" fill="#9dd5f2"/><polygon points="450.70,515.13 460.30,515.13 455.50,506.93" fill="#9dd5f2"/><polygon points="505.30,519.53 514.90,519.53 510.10,511.33" fill="#9dd5f2"/><polygon points="531.20,537.53 540.80,537.53 536.00,529.33" fill="#9dd5f2"/><polygon points="564.50,515.13 574.10,515.13 569.30,506.93" fill="#9dd5f2"/><polygon points="585.90,492.73 595.50,492.73 590.70,484.53" fill="#9dd5f2"/><polygon points="611.80,594.13 621.40,594.13 616.60,585.93" fill="#9dd5f2"/><line x1="166.80" y1="434.50" x2="166.80" y2="443.70" stroke="#0f566a" stroke-width="1.15"/><line x1="158.80" y1="434.50" x2="174.80" y2="434.50" stroke="#0f566a" stroke-width="1.45"/><line x1="158.80" y1="443.70" x2="174.80" y2="443.70" stroke="#0f566a" stroke-width="1.45"/><line x1="188.00" y1="436.15" x2="188.00" y2="447.05" stroke="#0f566a" stroke-width="1.15"/><line x1="180.00" y1="436.15" x2="196.00" y2="436.15" stroke="#0f566a" stroke-width="1.45"/><line x1="180.00" y1="447.05" x2="196.00" y2="447.05" stroke="#0f566a" stroke-width="1.45"/><line x1="213.90" y1="421.20" x2="213.90" y2="431.00" stroke="#0f566a" stroke-width="1.15"/><line x1="205.90" y1="421.20" x2="221.90" y2="421.20" stroke="#0f566a" stroke-width="1.45"/><line x1="205.90" y1="431.00" x2="221.90" y2="431.00" stroke="#0f566a" stroke-width="1.45"/><line x1="247.30" y1="422.65" x2="247.30" y2="431.75" stroke="#0f566a" stroke-width="1.15"/><line x1="239.30" y1="422.65" x2="255.30" y2="422.65" stroke="#0f566a" stroke-width="1.45"/><line x1="239.30" y1="431.75" x2="255.30" y2="431.75" stroke="#0f566a" stroke-width="1.45"/><line x1="268.60" y1="416.55" x2="268.60" y2="427.85" stroke="#0f566a" stroke-width="1.15"/><line x1="260.60" y1="416.55" x2="276.60" y2="416.55" stroke="#0f566a" stroke-width="1.45"/><line x1="260.60" y1="427.85" x2="276.60" y2="427.85" stroke="#0f566a" stroke-width="1.45"/><line x1="294.50" y1="402.75" x2="294.50" y2="413.05" stroke="#0f566a" stroke-width="1.15"/><line x1="286.50" y1="402.75" x2="302.50" y2="402.75" stroke="#0f566a" stroke-width="1.45"/><line x1="286.50" y1="413.05" x2="302.50" y2="413.05" stroke="#0f566a" stroke-width="1.45"/><line x1="327.80" y1="405.45" x2="327.80" y2="415.55" stroke="#0f566a" stroke-width="1.15"/><line x1="319.80" y1="405.45" x2="335.80" y2="405.45" stroke="#0f566a" stroke-width="1.45"/><line x1="319.80" y1="415.55" x2="335.80" y2="415.55" stroke="#0f566a" stroke-width="1.45"/><line x1="349.00" y1="405.35" x2="349.00" y2="419.85" stroke="#0f566a" stroke-width="1.15"/><line x1="341.00" y1="405.35" x2="357.00" y2="405.35" stroke="#0f566a" stroke-width="1.45"/><line x1="341.00" y1="419.85" x2="357.00" y2="419.85" stroke="#0f566a" stroke-width="1.45"/><line x1="375.10" y1="401.90" x2="375.10" y2="417.90" stroke="#0f566a" stroke-width="1.15"/><line x1="367.10" y1="401.90" x2="383.10" y2="401.90" stroke="#0f566a" stroke-width="1.45"/><line x1="367.10" y1="417.90" x2="383.10" y2="417.90" stroke="#0f566a" stroke-width="1.45"/><line x1="408.40" y1="396.95" x2="408.40" y2="411.45" stroke="#0f566a" stroke-width="1.15"/><line x1="400.40" y1="396.95" x2="416.40" y2="396.95" stroke="#0f566a" stroke-width="1.45"/><line x1="400.40" y1="411.45" x2="416.40" y2="411.45" stroke="#0f566a" stroke-width="1.45"/><line x1="429.40" y1="392.15" x2="429.40" y2="417.05" stroke="#0f566a" stroke-width="1.15"/><line x1="421.40" y1="392.15" x2="437.40" y2="392.15" stroke="#0f566a" stroke-width="1.45"/><line x1="421.40" y1="417.05" x2="437.40" y2="417.05" stroke="#0f566a" stroke-width="1.45"/><line x1="455.50" y1="399.10" x2="455.50" y2="426.70" stroke="#0f566a" stroke-width="1.15"/><line x1="447.50" y1="399.10" x2="463.50" y2="399.10" stroke="#0f566a" stroke-width="1.45"/><line x1="447.50" y1="426.70" x2="463.50" y2="426.70" stroke="#0f566a" stroke-width="1.45"/><line x1="489.30" y1="399.40" x2="489.30" y2="426.20" stroke="#0f566a" stroke-width="1.15"/><line x1="481.30" y1="399.40" x2="497.30" y2="399.40" stroke="#0f566a" stroke-width="1.45"/><line x1="481.30" y1="426.20" x2="497.30" y2="426.20" stroke="#0f566a" stroke-width="1.45"/><line x1="510.10" y1="385.35" x2="510.10" y2="429.45" stroke="#0f566a" stroke-width="1.15"/><line x1="502.10" y1="385.35" x2="518.10" y2="385.35" stroke="#0f566a" stroke-width="1.45"/><line x1="502.10" y1="429.45" x2="518.10" y2="429.45" stroke="#0f566a" stroke-width="1.45"/><circle cx="166.80" cy="439.10" r="4.35" fill="#005064"/><circle cx="188.00" cy="441.60" r="4.35" fill="#005064"/><circle cx="213.90" cy="426.10" r="4.35" fill="#005064"/><circle cx="247.30" cy="427.20" r="4.35" fill="#005064"/><circle cx="268.60" cy="422.20" r="4.35" fill="#005064"/><circle cx="294.50" cy="407.90" r="4.35" fill="#005064"/><circle cx="327.80" cy="410.50" r="4.35" fill="#005064"/><circle cx="349.00" cy="412.60" r="4.35" fill="#005064"/><circle cx="375.10" cy="409.90" r="4.35" fill="#005064"/><circle cx="408.40" cy="404.20" r="4.35" fill="#005064"/><circle cx="429.40" cy="404.60" r="4.35" fill="#005064"/><circle cx="455.50" cy="412.90" r="4.35" fill="#005064"/><circle cx="489.30" cy="412.80" r="4.35" fill="#005064"/><circle cx="510.10" cy="407.40" r="4.35" fill="#005064"/><line x1="166.80" y1="500.90" x2="166.80" y2="510.10" stroke="#0f566a" stroke-width="1.15"/><line x1="158.80" y1="500.90" x2="174.80" y2="500.90" stroke="#0f566a" stroke-width="1.45"/><line x1="158.80" y1="510.10" x2="174.80" y2="510.10" stroke="#0f566a" stroke-width="1.45"/><line x1="188.00" y1="497.70" x2="188.00" y2="508.50" stroke="#0f566a" stroke-width="1.15"/><line x1="180.00" y1="497.70" x2="196.00" y2="497.70" stroke="#0f566a" stroke-width="1.45"/><line x1="180.00" y1="508.50" x2="196.00" y2="508.50" stroke="#0f566a" stroke-width="1.45"/><line x1="213.90" y1="498.00" x2="213.90" y2="508.00" stroke="#0f566a" stroke-width="1.15"/><line x1="205.90" y1="498.00" x2="221.90" y2="498.00" stroke="#0f566a" stroke-width="1.45"/><line x1="205.90" y1="508.00" x2="221.90" y2="508.00" stroke="#0f566a" stroke-width="1.45"/><line x1="247.30" y1="495.45" x2="247.30" y2="504.55" stroke="#0f566a" stroke-width="1.15"/><line x1="239.30" y1="495.45" x2="255.30" y2="495.45" stroke="#0f566a" stroke-width="1.45"/><line x1="239.30" y1="504.55" x2="255.30" y2="504.55" stroke="#0f566a" stroke-width="1.45"/><line x1="268.60" y1="495.85" x2="268.60" y2="507.15" stroke="#0f566a" stroke-width="1.15"/><line x1="260.60" y1="495.85" x2="276.60" y2="495.85" stroke="#0f566a" stroke-width="1.45"/><line x1="260.60" y1="507.15" x2="276.60" y2="507.15" stroke="#0f566a" stroke-width="1.45"/><line x1="294.50" y1="493.10" x2="294.50" y2="503.10" stroke="#0f566a" stroke-width="1.15"/><line x1="286.50" y1="493.10" x2="302.50" y2="493.10" stroke="#0f566a" stroke-width="1.45"/><line x1="286.50" y1="503.10" x2="302.50" y2="503.10" stroke="#0f566a" stroke-width="1.45"/><line x1="327.80" y1="490.30" x2="327.80" y2="500.70" stroke="#0f566a" stroke-width="1.15"/><line x1="319.80" y1="490.30" x2="335.80" y2="490.30" stroke="#0f566a" stroke-width="1.45"/><line x1="319.80" y1="500.70" x2="335.80" y2="500.70" stroke="#0f566a" stroke-width="1.45"/><line x1="349.00" y1="485.85" x2="349.00" y2="502.15" stroke="#0f566a" stroke-width="1.15"/><line x1="341.00" y1="485.85" x2="357.00" y2="485.85" stroke="#0f566a" stroke-width="1.45"/><line x1="341.00" y1="502.15" x2="357.00" y2="502.15" stroke="#0f566a" stroke-width="1.45"/><line x1="375.10" y1="493.90" x2="375.10" y2="509.50" stroke="#0f566a" stroke-width="1.15"/><line x1="367.10" y1="493.90" x2="383.10" y2="493.90" stroke="#0f566a" stroke-width="1.45"/><line x1="367.10" y1="509.50" x2="383.10" y2="509.50" stroke="#0f566a" stroke-width="1.45"/><line x1="408.40" y1="497.95" x2="408.40" y2="512.25" stroke="#0f566a" stroke-width="1.15"/><line x1="400.40" y1="497.95" x2="416.40" y2="497.95" stroke="#0f566a" stroke-width="1.45"/><line x1="400.40" y1="512.25" x2="416.40" y2="512.25" stroke="#0f566a" stroke-width="1.45"/><line x1="429.40" y1="495.60" x2="429.40" y2="520.60" stroke="#0f566a" stroke-width="1.15"/><line x1="421.40" y1="495.60" x2="437.40" y2="495.60" stroke="#0f566a" stroke-width="1.45"/><line x1="421.40" y1="520.60" x2="437.40" y2="520.60" stroke="#0f566a" stroke-width="1.45"/><line x1="455.50" y1="481.95" x2="455.50" y2="509.65" stroke="#0f566a" stroke-width="1.15"/><line x1="447.50" y1="481.95" x2="463.50" y2="481.95" stroke="#0f566a" stroke-width="1.45"/><line x1="447.50" y1="509.65" x2="463.50" y2="509.65" stroke="#0f566a" stroke-width="1.45"/><line x1="489.30" y1="476.15" x2="489.30" y2="503.05" stroke="#0f566a" stroke-width="1.15"/><line x1="481.30" y1="476.15" x2="497.30" y2="476.15" stroke="#0f566a" stroke-width="1.45"/><line x1="481.30" y1="503.05" x2="497.30" y2="503.05" stroke="#0f566a" stroke-width="1.45"/><line x1="510.10" y1="502.95" x2="510.10" y2="547.45" stroke="#0f566a" stroke-width="1.15"/><line x1="502.10" y1="502.95" x2="518.10" y2="502.95" stroke="#0f566a" stroke-width="1.45"/><line x1="502.10" y1="547.45" x2="518.10" y2="547.45" stroke="#0f566a" stroke-width="1.45"/><polygon points="162.00,508.23 171.60,508.23 166.80,500.03" fill="#005064"/><polygon points="183.20,505.83 192.80,505.83 188.00,497.63" fill="#005064"/><polygon points="209.10,505.73 218.70,505.73 213.90,497.53" fill="#005064"/><polygon points="242.50,502.73 252.10,502.73 247.30,494.53" fill="#005064"/><polygon points="263.80,504.23 273.40,504.23 268.60,496.03" fill="#005064"/><polygon points="289.70,500.83 299.30,500.83 294.50,492.63" fill="#005064"/><polygon points="323.00,498.23 332.60,498.23 327.80,490.03" fill="#005064"/><polygon points="344.20,496.73 353.80,496.73 349.00,488.53" fill="#005064"/><polygon points="370.30,504.43 379.90,504.43 375.10,496.23" fill="#005064"/><polygon points="403.60,507.83 413.20,507.83 408.40,499.63" fill="#005064"/><polygon points="424.60,510.83 434.20,510.83 429.40,502.63" fill="#005064"/><polygon points="450.70,498.53 460.30,498.53 455.50,490.33" fill="#005064"/><polygon points="484.50,492.33 494.10,492.33 489.30,484.13" fill="#005064"/><polygon points="505.30,527.93 514.90,527.93 510.10,519.73" fill="#005064"/><line x1="247.30" y1="389.95" x2="247.30" y2="398.35" stroke="#ac1c1f" stroke-width="1.15"/><line x1="239.30" y1="389.95" x2="255.30" y2="389.95" stroke="#ac1c1f" stroke-width="1.45"/><line x1="239.30" y1="398.35" x2="255.30" y2="398.35" stroke="#ac1c1f" stroke-width="1.45"/><line x1="268.60" y1="383.60" x2="268.60" y2="394.40" stroke="#ac1c1f" stroke-width="1.15"/><line x1="260.60" y1="383.60" x2="276.60" y2="383.60" stroke="#ac1c1f" stroke-width="1.45"/><line x1="260.60" y1="394.40" x2="276.60" y2="394.40" stroke="#ac1c1f" stroke-width="1.45"/><line x1="294.50" y1="378.05" x2="294.50" y2="387.85" stroke="#ac1c1f" stroke-width="1.15"/><line x1="286.50" y1="378.05" x2="302.50" y2="378.05" stroke="#ac1c1f" stroke-width="1.45"/><line x1="286.50" y1="387.85" x2="302.50" y2="387.85" stroke="#ac1c1f" stroke-width="1.45"/><line x1="327.80" y1="367.10" x2="327.80" y2="375.50" stroke="#ac1c1f" stroke-width="1.15"/><line x1="319.80" y1="367.10" x2="335.80" y2="367.10" stroke="#ac1c1f" stroke-width="1.45"/><line x1="319.80" y1="375.50" x2="335.80" y2="375.50" stroke="#ac1c1f" stroke-width="1.45"/><line x1="349.00" y1="365.50" x2="349.00" y2="377.30" stroke="#ac1c1f" stroke-width="1.15"/><line x1="341.00" y1="365.50" x2="357.00" y2="365.50" stroke="#ac1c1f" stroke-width="1.45"/><line x1="341.00" y1="377.30" x2="357.00" y2="377.30" stroke="#ac1c1f" stroke-width="1.45"/><line x1="375.10" y1="362.45" x2="375.10" y2="376.45" stroke="#ac1c1f" stroke-width="1.15"/><line x1="367.10" y1="362.45" x2="383.10" y2="362.45" stroke="#ac1c1f" stroke-width="1.45"/><line x1="367.10" y1="376.45" x2="383.10" y2="376.45" stroke="#ac1c1f" stroke-width="1.45"/><line x1="408.40" y1="359.75" x2="408.40" y2="370.55" stroke="#ac1c1f" stroke-width="1.15"/><line x1="400.40" y1="359.75" x2="416.40" y2="359.75" stroke="#ac1c1f" stroke-width="1.45"/><line x1="400.40" y1="370.55" x2="416.40" y2="370.55" stroke="#ac1c1f" stroke-width="1.45"/><line x1="429.40" y1="366.20" x2="429.40" y2="387.80" stroke="#ac1c1f" stroke-width="1.15"/><line x1="421.40" y1="366.20" x2="437.40" y2="366.20" stroke="#ac1c1f" stroke-width="1.45"/><line x1="421.40" y1="387.80" x2="437.40" y2="387.80" stroke="#ac1c1f" stroke-width="1.45"/><line x1="455.50" y1="368.50" x2="455.50" y2="390.50" stroke="#ac1c1f" stroke-width="1.15"/><line x1="447.50" y1="368.50" x2="463.50" y2="368.50" stroke="#ac1c1f" stroke-width="1.45"/><line x1="447.50" y1="390.50" x2="463.50" y2="390.50" stroke="#ac1c1f" stroke-width="1.45"/><line x1="489.30" y1="364.95" x2="489.30" y2="381.15" stroke="#ac1c1f" stroke-width="1.15"/><line x1="481.30" y1="364.95" x2="497.30" y2="364.95" stroke="#ac1c1f" stroke-width="1.45"/><line x1="481.30" y1="381.15" x2="497.30" y2="381.15" stroke="#ac1c1f" stroke-width="1.45"/><line x1="510.10" y1="352.40" x2="510.10" y2="378.60" stroke="#ac1c1f" stroke-width="1.15"/><line x1="502.10" y1="352.40" x2="518.10" y2="352.40" stroke="#ac1c1f" stroke-width="1.45"/><line x1="502.10" y1="378.60" x2="518.10" y2="378.60" stroke="#ac1c1f" stroke-width="1.45"/><line x1="536.00" y1="357.85" x2="536.00" y2="390.65" stroke="#ac1c1f" stroke-width="1.15"/><line x1="528.00" y1="357.85" x2="544.00" y2="357.85" stroke="#ac1c1f" stroke-width="1.45"/><line x1="528.00" y1="390.65" x2="544.00" y2="390.65" stroke="#ac1c1f" stroke-width="1.45"/><line x1="569.30" y1="354.70" x2="569.30" y2="382.40" stroke="#ac1c1f" stroke-width="1.15"/><line x1="561.30" y1="354.70" x2="577.30" y2="354.70" stroke="#ac1c1f" stroke-width="1.45"/><line x1="561.30" y1="382.40" x2="577.30" y2="382.40" stroke="#ac1c1f" stroke-width="1.45"/><line x1="590.70" y1="354.00" x2="590.70" y2="417.80" stroke="#ac1c1f" stroke-width="1.15"/><line x1="582.70" y1="354.00" x2="598.70" y2="354.00" stroke="#ac1c1f" stroke-width="1.45"/><line x1="582.70" y1="417.80" x2="598.70" y2="417.80" stroke="#ac1c1f" stroke-width="1.45"/><line x1="616.60" y1="310.50" x2="616.60" y2="377.10" stroke="#ac1c1f" stroke-width="1.15"/><line x1="608.60" y1="310.50" x2="624.60" y2="310.50" stroke="#ac1c1f" stroke-width="1.45"/><line x1="608.60" y1="377.10" x2="624.60" y2="377.10" stroke="#ac1c1f" stroke-width="1.45"/><circle cx="247.30" cy="394.15" r="4.35" fill="#a80000"/><circle cx="268.60" cy="389.00" r="4.35" fill="#a80000"/><circle cx="294.50" cy="382.95" r="4.35" fill="#a80000"/><circle cx="327.80" cy="371.30" r="4.35" fill="#a80000"/><circle cx="349.00" cy="371.40" r="4.35" fill="#a80000"/><circle cx="375.10" cy="369.45" r="4.35" fill="#a80000"/><circle cx="408.40" cy="365.15" r="4.35" fill="#a80000"/><circle cx="429.40" cy="377.00" r="4.35" fill="#a80000"/><circle cx="455.50" cy="379.50" r="4.35" fill="#a80000"/><circle cx="489.30" cy="373.05" r="4.35" fill="#a80000"/><circle cx="510.10" cy="365.50" r="4.35" fill="#a80000"/><circle cx="536.00" cy="374.25" r="4.35" fill="#a80000"/><circle cx="569.30" cy="368.55" r="4.35" fill="#a80000"/><circle cx="590.70" cy="385.90" r="4.35" fill="#a80000"/><circle cx="616.60" cy="343.80" r="4.35" fill="#a80000"/><line x1="247.30" y1="489.50" x2="247.30" y2="497.70" stroke="#ac1c1f" stroke-width="1.15"/><line x1="239.30" y1="489.50" x2="255.30" y2="489.50" stroke="#ac1c1f" stroke-width="1.45"/><line x1="239.30" y1="497.70" x2="255.30" y2="497.70" stroke="#ac1c1f" stroke-width="1.45"/><line x1="268.60" y1="491.80" x2="268.60" y2="501.90" stroke="#ac1c1f" stroke-width="1.15"/><line x1="260.60" y1="491.80" x2="276.60" y2="491.80" stroke="#ac1c1f" stroke-width="1.45"/><line x1="260.60" y1="501.90" x2="276.60" y2="501.90" stroke="#ac1c1f" stroke-width="1.45"/><line x1="294.50" y1="489.20" x2="294.50" y2="498.60" stroke="#ac1c1f" stroke-width="1.15"/><line x1="286.50" y1="489.20" x2="302.50" y2="489.20" stroke="#ac1c1f" stroke-width="1.45"/><line x1="286.50" y1="498.60" x2="302.50" y2="498.60" stroke="#ac1c1f" stroke-width="1.45"/><line x1="327.80" y1="489.65" x2="327.80" y2="497.85" stroke="#ac1c1f" stroke-width="1.15"/><line x1="319.80" y1="489.65" x2="335.80" y2="489.65" stroke="#ac1c1f" stroke-width="1.45"/><line x1="319.80" y1="497.85" x2="335.80" y2="497.85" stroke="#ac1c1f" stroke-width="1.45"/><line x1="349.00" y1="480.55" x2="349.00" y2="492.45" stroke="#ac1c1f" stroke-width="1.15"/><line x1="341.00" y1="480.55" x2="357.00" y2="480.55" stroke="#ac1c1f" stroke-width="1.45"/><line x1="341.00" y1="492.45" x2="357.00" y2="492.45" stroke="#ac1c1f" stroke-width="1.45"/><line x1="375.10" y1="488.75" x2="375.10" y2="502.55" stroke="#ac1c1f" stroke-width="1.15"/><line x1="367.10" y1="488.75" x2="383.10" y2="488.75" stroke="#ac1c1f" stroke-width="1.45"/><line x1="367.10" y1="502.55" x2="383.10" y2="502.55" stroke="#ac1c1f" stroke-width="1.45"/><line x1="408.40" y1="492.80" x2="408.40" y2="503.90" stroke="#ac1c1f" stroke-width="1.15"/><line x1="400.40" y1="492.80" x2="416.40" y2="492.80" stroke="#ac1c1f" stroke-width="1.45"/><line x1="400.40" y1="503.90" x2="416.40" y2="503.90" stroke="#ac1c1f" stroke-width="1.45"/><line x1="429.40" y1="501.35" x2="429.40" y2="522.95" stroke="#ac1c1f" stroke-width="1.15"/><line x1="421.40" y1="501.35" x2="437.40" y2="501.35" stroke="#ac1c1f" stroke-width="1.45"/><line x1="421.40" y1="522.95" x2="437.40" y2="522.95" stroke="#ac1c1f" stroke-width="1.45"/><line x1="455.50" y1="490.80" x2="455.50" y2="511.80" stroke="#ac1c1f" stroke-width="1.15"/><line x1="447.50" y1="490.80" x2="463.50" y2="490.80" stroke="#ac1c1f" stroke-width="1.45"/><line x1="447.50" y1="511.80" x2="463.50" y2="511.80" stroke="#ac1c1f" stroke-width="1.45"/><line x1="489.30" y1="491.95" x2="489.30" y2="507.75" stroke="#ac1c1f" stroke-width="1.15"/><line x1="481.30" y1="491.95" x2="497.30" y2="491.95" stroke="#ac1c1f" stroke-width="1.45"/><line x1="481.30" y1="507.75" x2="497.30" y2="507.75" stroke="#ac1c1f" stroke-width="1.45"/><line x1="510.10" y1="494.95" x2="510.10" y2="521.35" stroke="#ac1c1f" stroke-width="1.15"/><line x1="502.10" y1="494.95" x2="518.10" y2="494.95" stroke="#ac1c1f" stroke-width="1.45"/><line x1="502.10" y1="521.35" x2="518.10" y2="521.35" stroke="#ac1c1f" stroke-width="1.45"/><line x1="536.00" y1="506.80" x2="536.00" y2="539.80" stroke="#ac1c1f" stroke-width="1.15"/><line x1="528.00" y1="506.80" x2="544.00" y2="506.80" stroke="#ac1c1f" stroke-width="1.45"/><line x1="528.00" y1="539.80" x2="544.00" y2="539.80" stroke="#ac1c1f" stroke-width="1.45"/><line x1="569.30" y1="511.00" x2="569.30" y2="538.80" stroke="#ac1c1f" stroke-width="1.15"/><line x1="561.30" y1="511.00" x2="577.30" y2="511.00" stroke="#ac1c1f" stroke-width="1.45"/><line x1="561.30" y1="538.80" x2="577.30" y2="538.80" stroke="#ac1c1f" stroke-width="1.45"/><line x1="590.70" y1="471.80" x2="590.70" y2="535.00" stroke="#ac1c1f" stroke-width="1.15"/><line x1="582.70" y1="471.80" x2="598.70" y2="471.80" stroke="#ac1c1f" stroke-width="1.45"/><line x1="582.70" y1="535.00" x2="598.70" y2="535.00" stroke="#ac1c1f" stroke-width="1.45"/><line x1="616.60" y1="475.35" x2="616.60" y2="542.55" stroke="#ac1c1f" stroke-width="1.15"/><line x1="608.60" y1="475.35" x2="624.60" y2="475.35" stroke="#ac1c1f" stroke-width="1.45"/><line x1="608.60" y1="542.55" x2="624.60" y2="542.55" stroke="#ac1c1f" stroke-width="1.45"/><polygon points="242.50,496.33 252.10,496.33 247.30,488.13" fill="#a80000"/><polygon points="263.80,499.58 273.40,499.58 268.60,491.38" fill="#a80000"/><polygon points="289.70,496.63 299.30,496.63 294.50,488.43" fill="#a80000"/><polygon points="323.00,496.48 332.60,496.48 327.80,488.28" fill="#a80000"/><polygon points="344.20,489.23 353.80,489.23 349.00,481.03" fill="#a80000"/><polygon points="370.30,498.38 379.90,498.38 375.10,490.18" fill="#a80000"/><polygon points="403.60,501.08 413.20,501.08 408.40,492.88" fill="#a80000"/><polygon points="424.60,514.88 434.20,514.88 429.40,506.68" fill="#a80000"/><polygon points="450.70,504.03 460.30,504.03 455.50,495.83" fill="#a80000"/><polygon points="484.50,502.58 494.10,502.58 489.30,494.38" fill="#a80000"/><polygon points="505.30,510.88 514.90,510.88 510.10,502.68" fill="#a80000"/><polygon points="531.20,526.03 540.80,526.03 536.00,517.83" fill="#a80000"/><polygon points="564.50,527.63 574.10,527.63 569.30,519.43" fill="#a80000"/><polygon points="585.90,506.13 595.50,506.13 590.70,497.93" fill="#a80000"/><polygon points="611.80,511.68 621.40,511.68 616.60,503.48" fill="#a80000"/></g><g clip-path="url(#cc)"><polygon points="247.30,627.00 251.50,631.00 247.30,635.00 243.10,631.00" fill="#a80000"/><polygon points="268.60,628.70 272.80,632.70 268.60,636.70 264.40,632.70" fill="#a80000"/><polygon points="294.50,628.10 298.70,632.10 294.50,636.10 290.30,632.10" fill="#a80000"/><polygon points="327.80,627.40 332.00,631.40 327.80,635.40 323.60,631.40" fill="#a80000"/><polygon points="349.00,629.70 353.20,633.70 349.00,637.70 344.80,633.70" fill="#a80000"/><polygon points="375.10,630.00 379.30,634.00 375.10,638.00 370.90,634.00" fill="#a80000"/><polygon points="408.40,629.70 412.60,633.70 408.40,637.70 404.20,633.70" fill="#a80000"/><polygon points="429.40,633.20 433.60,637.20 429.40,641.20 425.20,637.20" fill="#a80000"/><polygon points="455.50,631.10 459.70,635.10 455.50,639.10 451.30,635.10" fill="#a80000"/><polygon points="489.30,631.50 493.50,635.50 489.30,639.50 485.10,635.50" fill="#a80000"/><polygon points="510.10,636.40 514.30,640.40 510.10,644.40 505.90,640.40" fill="#a80000"/><polygon points="536.00,637.30 540.20,641.30 536.00,645.30 531.80,641.30" fill="#a80000"/><polygon points="569.30,638.20 573.50,642.20 569.30,646.20 565.10,642.20" fill="#a80000"/><polygon points="590.70,645.70 594.90,649.70 590.70,653.70 586.50,649.70" fill="#a80000"/><polygon points="616.60,645.70 620.80,649.70 616.60,653.70 612.40,649.70" fill="#a80000"/><polygon points="133.20,623.80 137.40,627.80 133.20,631.80 129.00,627.80" fill="#9dd5f2"/><polygon points="166.80,623.70 171.00,627.70 166.80,631.70 162.60,627.70" fill="#9dd5f2"/><polygon points="188.00,622.90 192.20,626.90 188.00,630.90 183.80,626.90" fill="#9dd5f2"/><polygon points="213.90,623.40 218.10,627.40 213.90,631.40 209.70,627.40" fill="#9dd5f2"/><polygon points="247.30,622.50 251.50,626.50 247.30,630.50 243.10,626.50" fill="#9dd5f2"/><polygon points="268.60,622.00 272.80,626.00 268.60,630.00 264.40,626.00" fill="#9dd5f2"/><polygon points="294.50,623.00 298.70,627.00 294.50,631.00 290.30,627.00" fill="#9dd5f2"/><polygon points="327.80,622.00 332.00,626.00 327.80,630.00 323.60,626.00" fill="#9dd5f2"/><polygon points="349.00,621.50 353.20,625.50 349.00,629.50 344.80,625.50" fill="#9dd5f2"/><polygon points="375.10,622.70 379.30,626.70 375.10,630.70 370.90,626.70" fill="#9dd5f2"/><polygon points="408.40,623.40 412.60,627.40 408.40,631.40 404.20,627.40" fill="#9dd5f2"/><polygon points="429.40,622.30 433.60,626.30 429.40,630.30 425.20,626.30" fill="#9dd5f2"/><polygon points="455.50,622.30 459.70,626.30 455.50,630.30 451.30,626.30" fill="#9dd5f2"/><polygon points="489.30,621.30 493.50,625.30 489.30,629.30 485.10,625.30" fill="#9dd5f2"/><polygon points="510.10,623.60 514.30,627.60 510.10,631.60 505.90,627.60" fill="#9dd5f2"/><polygon points="536.00,623.60 540.20,627.60 536.00,631.60 531.80,627.60" fill="#9dd5f2"/><polygon points="569.30,623.60 573.50,627.60 569.30,631.60 565.10,627.60" fill="#9dd5f2"/><polygon points="590.70,621.40 594.90,625.40 590.70,629.40 586.50,625.40" fill="#9dd5f2"/><polygon points="166.80,623.70 171.00,627.70 166.80,631.70 162.60,627.70" fill="#005064"/><polygon points="188.00,622.90 192.20,626.90 188.00,630.90 183.80,626.90" fill="#005064"/><polygon points="213.90,623.40 218.10,627.40 213.90,631.40 209.70,627.40" fill="#005064"/><polygon points="247.30,622.50 251.50,626.50 247.30,630.50 243.10,626.50" fill="#005064"/><polygon points="268.60,622.00 272.80,626.00 268.60,630.00 264.40,626.00" fill="#005064"/><polygon points="294.50,623.00 298.70,627.00 294.50,631.00 290.30,627.00" fill="#005064"/><polygon points="327.80,622.00 332.00,626.00 327.80,630.00 323.60,626.00" fill="#005064"/><polygon points="349.00,621.50 353.20,625.50 349.00,629.50 344.80,625.50" fill="#005064"/><polygon points="375.10,622.70 379.30,626.70 375.10,630.70 370.90,626.70" fill="#005064"/><polygon points="408.40,622.40 412.60,626.40 408.40,630.40 404.20,626.40" fill="#005064"/><polygon points="429.40,621.20 433.60,625.20 429.40,629.20 425.20,625.20" fill="#005064"/><polygon points="455.50,621.20 459.70,625.20 455.50,629.20 451.30,625.20" fill="#005064"/><polygon points="489.30,621.30 493.50,625.30 489.30,629.30 485.10,625.30" fill="#005064"/><polygon points="510.10,644.60 514.30,648.60 510.10,652.60 505.90,648.60" fill="#005064"/></g>
<text x="104.0" y="283.1" font-size="21.3" text-anchor="start" fill="#111" letter-spacing="0.55">CDU (Z2020)</text>
<text x="243.9" y="283.1" font-size="21.3" text-anchor="start" fill="#111" letter-spacing="0.55">CDU (Y2020)</text>
<text x="399.2" y="283.1" font-size="21.3" text-anchor="start" fill="#111" letter-spacing="0.45">This study</text>
<text x="110" y="572.8" font-size="22" text-anchor="start" fill="#111" >XIC</text>
<text x="157" y="572.8" font-size="22" text-anchor="start" fill="#111" >CHQ</text>
<text x="211" y="572.8" font-size="22" text-anchor="start" fill="#111" >CDU</text>
<text x="110" y="685.0" font-size="22" text-anchor="start" fill="#111" >XIC</text>
<text x="157" y="685.0" font-size="22" text-anchor="start" fill="#111" >CHQ</text>
<text x="211" y="685.0" font-size="22" text-anchor="start" fill="#111" >CDU</text>
<rect x="100.0" y="35.9" width="582.2" height="254.4" fill="none" stroke="#000" stroke-width="3"/>
<rect x="100.0" y="324.0" width="582.2" height="254.39999999999998" fill="none" stroke="#000" stroke-width="3"/>
<rect x="100.0" y="618.5" width="582.2" height="72.5" fill="none" stroke="#000" stroke-width="3"/>
<line x1="91" y1="290.10" x2="100.0" y2="290.10" stroke="#222" stroke-width="1.5"/>
<line x1="95.3" y1="279.94" x2="100.0" y2="279.94" stroke="#222" stroke-width="1.5"/>
<line x1="95.3" y1="269.78" x2="100.0" y2="269.78" stroke="#222" stroke-width="1.5"/>
<line x1="95.3" y1="259.62" x2="100.0" y2="259.62" stroke="#222" stroke-width="1.5"/>
<line x1="95.3" y1="249.46" x2="100.0" y2="249.46" stroke="#222" stroke-width="1.5"/>
<line x1="91" y1="239.30" x2="100.0" y2="239.30" stroke="#222" stroke-width="1.5"/>
<line x1="95.3" y1="229.14" x2="100.0" y2="229.14" stroke="#222" stroke-width="1.5"/>
<line x1="95.3" y1="218.98" x2="100.0" y2="218.98" stroke="#222" stroke-width="1.5"/>
<line x1="95.3" y1="208.82" x2="100.0" y2="208.82" stroke="#222" stroke-width="1.5"/>
<line x1="95.3" y1="198.66" x2="100.0" y2="198.66" stroke="#222" stroke-width="1.5"/>
<line x1="91" y1="188.50" x2="100.0" y2="188.50" stroke="#222" stroke-width="1.5"/>
<line x1="95.3" y1="178.34" x2="100.0" y2="178.34" stroke="#222" stroke-width="1.5"/>
<line x1="95.3" y1="168.18" x2="100.0" y2="168.18" stroke="#222" stroke-width="1.5"/>
<line x1="95.3" y1="158.02" x2="100.0" y2="158.02" stroke="#222" stroke-width="1.5"/>
<line x1="95.3" y1="147.86" x2="100.0" y2="147.86" stroke="#222" stroke-width="1.5"/>
<line x1="91" y1="137.70" x2="100.0" y2="137.70" stroke="#222" stroke-width="1.5"/>
<line x1="95.3" y1="127.54" x2="100.0" y2="127.54" stroke="#222" stroke-width="1.5"/>
<line x1="95.3" y1="117.38" x2="100.0" y2="117.38" stroke="#222" stroke-width="1.5"/>
<line x1="95.3" y1="107.22" x2="100.0" y2="107.22" stroke="#222" stroke-width="1.5"/>
<line x1="95.3" y1="97.06" x2="100.0" y2="97.06" stroke="#222" stroke-width="1.5"/>
<line x1="91" y1="86.90" x2="100.0" y2="86.90" stroke="#222" stroke-width="1.5"/>
<line x1="95.3" y1="76.74" x2="100.0" y2="76.74" stroke="#222" stroke-width="1.5"/>
<line x1="95.3" y1="66.58" x2="100.0" y2="66.58" stroke="#222" stroke-width="1.5"/>
<line x1="95.3" y1="56.42" x2="100.0" y2="56.42" stroke="#222" stroke-width="1.5"/>
<line x1="95.3" y1="46.26" x2="100.0" y2="46.26" stroke="#222" stroke-width="1.5"/>
<line x1="91" y1="36.10" x2="100.0" y2="36.10" stroke="#222" stroke-width="1.5"/>
<line x1="91" y1="578.00" x2="100.0" y2="578.00" stroke="#222" stroke-width="1.5"/>
<line x1="95.3" y1="567.84" x2="100.0" y2="567.84" stroke="#222" stroke-width="1.5"/>
<line x1="95.3" y1="557.68" x2="100.0" y2="557.68" stroke="#222" stroke-width="1.5"/>
<line x1="95.3" y1="547.52" x2="100.0" y2="547.52" stroke="#222" stroke-width="1.5"/>
<line x1="95.3" y1="537.36" x2="100.0" y2="537.36" stroke="#222" stroke-width="1.5"/>
<line x1="91" y1="527.20" x2="100.0" y2="527.20" stroke="#222" stroke-width="1.5"/>
<line x1="95.3" y1="517.04" x2="100.0" y2="517.04" stroke="#222" stroke-width="1.5"/>
<line x1="95.3" y1="506.88" x2="100.0" y2="506.88" stroke="#222" stroke-width="1.5"/>
<line x1="95.3" y1="496.72" x2="100.0" y2="496.72" stroke="#222" stroke-width="1.5"/>
<line x1="95.3" y1="486.56" x2="100.0" y2="486.56" stroke="#222" stroke-width="1.5"/>
<line x1="91" y1="476.40" x2="100.0" y2="476.40" stroke="#222" stroke-width="1.5"/>
<line x1="95.3" y1="466.24" x2="100.0" y2="466.24" stroke="#222" stroke-width="1.5"/>
<line x1="95.3" y1="456.08" x2="100.0" y2="456.08" stroke="#222" stroke-width="1.5"/>
<line x1="95.3" y1="445.92" x2="100.0" y2="445.92" stroke="#222" stroke-width="1.5"/>
<line x1="95.3" y1="435.76" x2="100.0" y2="435.76" stroke="#222" stroke-width="1.5"/>
<line x1="91" y1="425.60" x2="100.0" y2="425.60" stroke="#222" stroke-width="1.5"/>
<line x1="95.3" y1="415.44" x2="100.0" y2="415.44" stroke="#222" stroke-width="1.5"/>
<line x1="95.3" y1="405.28" x2="100.0" y2="405.28" stroke="#222" stroke-width="1.5"/>
<line x1="95.3" y1="395.12" x2="100.0" y2="395.12" stroke="#222" stroke-width="1.5"/>
<line x1="95.3" y1="384.96" x2="100.0" y2="384.96" stroke="#222" stroke-width="1.5"/>
<line x1="91" y1="374.80" x2="100.0" y2="374.80" stroke="#222" stroke-width="1.5"/>
<line x1="95.3" y1="364.64" x2="100.0" y2="364.64" stroke="#222" stroke-width="1.5"/>
<line x1="95.3" y1="354.48" x2="100.0" y2="354.48" stroke="#222" stroke-width="1.5"/>
<line x1="95.3" y1="344.32" x2="100.0" y2="344.32" stroke="#222" stroke-width="1.5"/>
<line x1="95.3" y1="334.16" x2="100.0" y2="334.16" stroke="#222" stroke-width="1.5"/>
<line x1="91" y1="324.00" x2="100.0" y2="324.00" stroke="#222" stroke-width="1.5"/>
<line x1="91" y1="691.00" x2="100.0" y2="691.00" stroke="#222" stroke-width="1.5"/>
<line x1="95.3" y1="684.38" x2="100.0" y2="684.38" stroke="#222" stroke-width="1.5"/>
<line x1="95.3" y1="677.76" x2="100.0" y2="677.76" stroke="#222" stroke-width="1.5"/>
<line x1="95.3" y1="671.14" x2="100.0" y2="671.14" stroke="#222" stroke-width="1.5"/>
<line x1="95.3" y1="664.52" x2="100.0" y2="664.52" stroke="#222" stroke-width="1.5"/>
<line x1="91" y1="657.90" x2="100.0" y2="657.90" stroke="#222" stroke-width="1.5"/>
<line x1="95.3" y1="651.28" x2="100.0" y2="651.28" stroke="#222" stroke-width="1.5"/>
<line x1="95.3" y1="644.66" x2="100.0" y2="644.66" stroke="#222" stroke-width="1.5"/>
<line x1="95.3" y1="638.04" x2="100.0" y2="638.04" stroke="#222" stroke-width="1.5"/>
<line x1="95.3" y1="631.42" x2="100.0" y2="631.42" stroke="#222" stroke-width="1.5"/>
<line x1="91" y1="624.80" x2="100.0" y2="624.80" stroke="#222" stroke-width="1.5"/>
<line x1="95.3" y1="618.18" x2="100.0" y2="618.18" stroke="#222" stroke-width="1.5"/>
<line x1="100.30" y1="291.8" x2="100.30" y2="299.40000000000003" stroke="#2a2a2a" stroke-width="1.3"/>
<line x1="180.74" y1="291.8" x2="180.74" y2="295.40000000000003" stroke="#2a2a2a" stroke-width="1.3"/>
<line x1="227.79" y1="291.8" x2="227.79" y2="295.40000000000003" stroke="#2a2a2a" stroke-width="1.3"/>
<line x1="261.17" y1="291.8" x2="261.17" y2="295.40000000000003" stroke="#2a2a2a" stroke-width="1.3"/>
<line x1="287.06" y1="291.8" x2="287.06" y2="295.40000000000003" stroke="#2a2a2a" stroke-width="1.3"/>
<line x1="308.22" y1="291.8" x2="308.22" y2="295.40000000000003" stroke="#2a2a2a" stroke-width="1.3"/>
<line x1="326.11" y1="291.8" x2="326.11" y2="295.40000000000003" stroke="#2a2a2a" stroke-width="1.3"/>
<line x1="341.61" y1="291.8" x2="341.61" y2="295.40000000000003" stroke="#2a2a2a" stroke-width="1.3"/>
<line x1="355.27" y1="291.8" x2="355.27" y2="295.40000000000003" stroke="#2a2a2a" stroke-width="1.3"/>
<line x1="367.50" y1="291.8" x2="367.50" y2="299.40000000000003" stroke="#2a2a2a" stroke-width="1.3"/>
<line x1="447.94" y1="291.8" x2="447.94" y2="295.40000000000003" stroke="#2a2a2a" stroke-width="1.3"/>
<line x1="494.99" y1="291.8" x2="494.99" y2="295.40000000000003" stroke="#2a2a2a" stroke-width="1.3"/>
<line x1="528.37" y1="291.8" x2="528.37" y2="295.40000000000003" stroke="#2a2a2a" stroke-width="1.3"/>
<line x1="554.26" y1="291.8" x2="554.26" y2="295.40000000000003" stroke="#2a2a2a" stroke-width="1.3"/>
<line x1="575.42" y1="291.8" x2="575.42" y2="295.40000000000003" stroke="#2a2a2a" stroke-width="1.3"/>
<line x1="593.31" y1="291.8" x2="593.31" y2="295.40000000000003" stroke="#2a2a2a" stroke-width="1.3"/>
<line x1="608.81" y1="291.8" x2="608.81" y2="295.40000000000003" stroke="#2a2a2a" stroke-width="1.3"/>
<line x1="622.47" y1="291.8" x2="622.47" y2="295.40000000000003" stroke="#2a2a2a" stroke-width="1.3"/>
<line x1="634.70" y1="291.8" x2="634.70" y2="299.40000000000003" stroke="#2a2a2a" stroke-width="1.3"/>
<line x1="100.30" y1="579.9" x2="100.30" y2="587.5" stroke="#2a2a2a" stroke-width="1.3"/>
<line x1="180.74" y1="579.9" x2="180.74" y2="583.5" stroke="#2a2a2a" stroke-width="1.3"/>
<line x1="227.79" y1="579.9" x2="227.79" y2="583.5" stroke="#2a2a2a" stroke-width="1.3"/>
<line x1="261.17" y1="579.9" x2="261.17" y2="583.5" stroke="#2a2a2a" stroke-width="1.3"/>
<line x1="287.06" y1="579.9" x2="287.06" y2="583.5" stroke="#2a2a2a" stroke-width="1.3"/>
<line x1="308.22" y1="579.9" x2="308.22" y2="583.5" stroke="#2a2a2a" stroke-width="1.3"/>
<line x1="326.11" y1="579.9" x2="326.11" y2="583.5" stroke="#2a2a2a" stroke-width="1.3"/>
<line x1="341.61" y1="579.9" x2="341.61" y2="583.5" stroke="#2a2a2a" stroke-width="1.3"/>
<line x1="355.27" y1="579.9" x2="355.27" y2="583.5" stroke="#2a2a2a" stroke-width="1.3"/>
<line x1="367.50" y1="579.9" x2="367.50" y2="587.5" stroke="#2a2a2a" stroke-width="1.3"/>
<line x1="447.94" y1="579.9" x2="447.94" y2="583.5" stroke="#2a2a2a" stroke-width="1.3"/>
<line x1="494.99" y1="579.9" x2="494.99" y2="583.5" stroke="#2a2a2a" stroke-width="1.3"/>
<line x1="528.37" y1="579.9" x2="528.37" y2="583.5" stroke="#2a2a2a" stroke-width="1.3"/>
<line x1="554.26" y1="579.9" x2="554.26" y2="583.5" stroke="#2a2a2a" stroke-width="1.3"/>
<line x1="575.42" y1="579.9" x2="575.42" y2="583.5" stroke="#2a2a2a" stroke-width="1.3"/>
<line x1="593.31" y1="579.9" x2="593.31" y2="583.5" stroke="#2a2a2a" stroke-width="1.3"/>
<line x1="608.81" y1="579.9" x2="608.81" y2="583.5" stroke="#2a2a2a" stroke-width="1.3"/>
<line x1="622.47" y1="579.9" x2="622.47" y2="583.5" stroke="#2a2a2a" stroke-width="1.3"/>
<line x1="634.70" y1="579.9" x2="634.70" y2="587.5" stroke="#2a2a2a" stroke-width="1.3"/>
<line x1="100.30" y1="692.5" x2="100.30" y2="700.1" stroke="#2a2a2a" stroke-width="1.3"/>
<line x1="180.74" y1="692.5" x2="180.74" y2="696.1" stroke="#2a2a2a" stroke-width="1.3"/>
<line x1="227.79" y1="692.5" x2="227.79" y2="696.1" stroke="#2a2a2a" stroke-width="1.3"/>
<line x1="261.17" y1="692.5" x2="261.17" y2="696.1" stroke="#2a2a2a" stroke-width="1.3"/>
<line x1="287.06" y1="692.5" x2="287.06" y2="696.1" stroke="#2a2a2a" stroke-width="1.3"/>
<line x1="308.22" y1="692.5" x2="308.22" y2="696.1" stroke="#2a2a2a" stroke-width="1.3"/>
<line x1="326.11" y1="692.5" x2="326.11" y2="696.1" stroke="#2a2a2a" stroke-width="1.3"/>
<line x1="341.61" y1="692.5" x2="341.61" y2="696.1" stroke="#2a2a2a" stroke-width="1.3"/>
<line x1="355.27" y1="692.5" x2="355.27" y2="696.1" stroke="#2a2a2a" stroke-width="1.3"/>
<line x1="367.50" y1="692.5" x2="367.50" y2="700.1" stroke="#2a2a2a" stroke-width="1.3"/>
<line x1="447.94" y1="692.5" x2="447.94" y2="696.1" stroke="#2a2a2a" stroke-width="1.3"/>
<line x1="494.99" y1="692.5" x2="494.99" y2="696.1" stroke="#2a2a2a" stroke-width="1.3"/>
<line x1="528.37" y1="692.5" x2="528.37" y2="696.1" stroke="#2a2a2a" stroke-width="1.3"/>
<line x1="554.26" y1="692.5" x2="554.26" y2="696.1" stroke="#2a2a2a" stroke-width="1.3"/>
<line x1="575.42" y1="692.5" x2="575.42" y2="696.1" stroke="#2a2a2a" stroke-width="1.3"/>
<line x1="593.31" y1="692.5" x2="593.31" y2="696.1" stroke="#2a2a2a" stroke-width="1.3"/>
<line x1="608.81" y1="692.5" x2="608.81" y2="696.1" stroke="#2a2a2a" stroke-width="1.3"/>
<line x1="622.47" y1="692.5" x2="622.47" y2="696.1" stroke="#2a2a2a" stroke-width="1.3"/>
<line x1="634.70" y1="692.5" x2="634.70" y2="700.1" stroke="#2a2a2a" stroke-width="1.3"/>
<text x="82.5" y="94.4" font-size="22" text-anchor="end" fill="#2a2626" >1000</text>
<text x="82.5" y="196.0" font-size="22" text-anchor="end" fill="#2a2626" >0</text>
<text x="82.5" y="297.6" font-size="22" text-anchor="end" fill="#2a2626" >-1000</text>
<text x="82.5" y="382.29999999999995" font-size="22" text-anchor="end" fill="#2a2626" >1000</text>
<text x="82.5" y="483.9" font-size="22" text-anchor="end" fill="#2a2626" >0</text>
<text x="82.5" y="585.5" font-size="22" text-anchor="end" fill="#2a2626" >-1000</text>
<text x="82" y="632.0" font-size="21" text-anchor="end" fill="#2a2626" >1.0</text>
<text x="82" y="665.1" font-size="21" text-anchor="end" fill="#2a2626" >0.5</text>
<text x="82" y="698.2" font-size="21" text-anchor="end" fill="#2a2626" >0.0</text>
<text x="46.0" y="41.2" font-size="21" text-anchor="start" fill="#2a2626" letter-spacing="0.5">(a)</text>
<text x="45.4" y="323.6" font-size="21" text-anchor="start" fill="#2a2626" letter-spacing="0.6">(b)</text>
<text x="45.8" y="607.4" font-size="21" text-anchor="start" fill="#2a2626" letter-spacing="0.5">(c)</text>
<text x="100.3" y="722.8" font-size="22" text-anchor="middle" fill="#2a2626" >1</text>
<text x="367.5" y="722.8" font-size="22" text-anchor="middle" fill="#2a2626" >10</text>
<text x="634.6999999999999" y="722.8" font-size="22" text-anchor="middle" fill="#2a2626" >100</text>
<text x="367.6" y="748.5" font-size="20.3" text-anchor="middle" fill="#2a2626" letter-spacing="1.15">period(days)</text>
<text transform="translate(16.6,158.9) rotate(-90)" font-size="20.3" text-anchor="middle" fill="#2a2626" letter-spacing="1.2">C-responses(km)</text>
<text transform="translate(16.6,493.0) rotate(-90)" font-size="20.3" text-anchor="middle" fill="#2a2626" letter-spacing="1.2">C-responses(km)</text>
<text transform="translate(42.4,663) rotate(-90)" font-size="20.5" text-anchor="middle" fill="#2a2626" letter-spacing="0.6">coh<tspan font-size="10.5" dy="-9" letter-spacing="0">2</tspan></text>
<circle cx="113.6" cy="10.4" r="5" fill="#000"/>
<text x="139.3" y="17.3" font-size="20.3" text-anchor="start" fill="#2a2626" letter-spacing="0.7">Re</text>
<polygon points="212.1,14.9 223.1,14.9 217.6,5.5" fill="#000"/>
<text x="243.3" y="17.5" font-size="20.3" text-anchor="start" fill="#2a2626" letter-spacing="0.7">Im</text>
<polygon points="309.7,4.5 316,10.3 309.7,16.1 303.4,10.3" fill="#000"/>
<text x="337.4" y="18.6" font-size="20.3" fill="#2a2626" letter-spacing="1.1">coh<tspan font-size="10.5" dy="-9.5" dx="0.2" letter-spacing="0">2</tspan></text>
</svg>
</body></html>
